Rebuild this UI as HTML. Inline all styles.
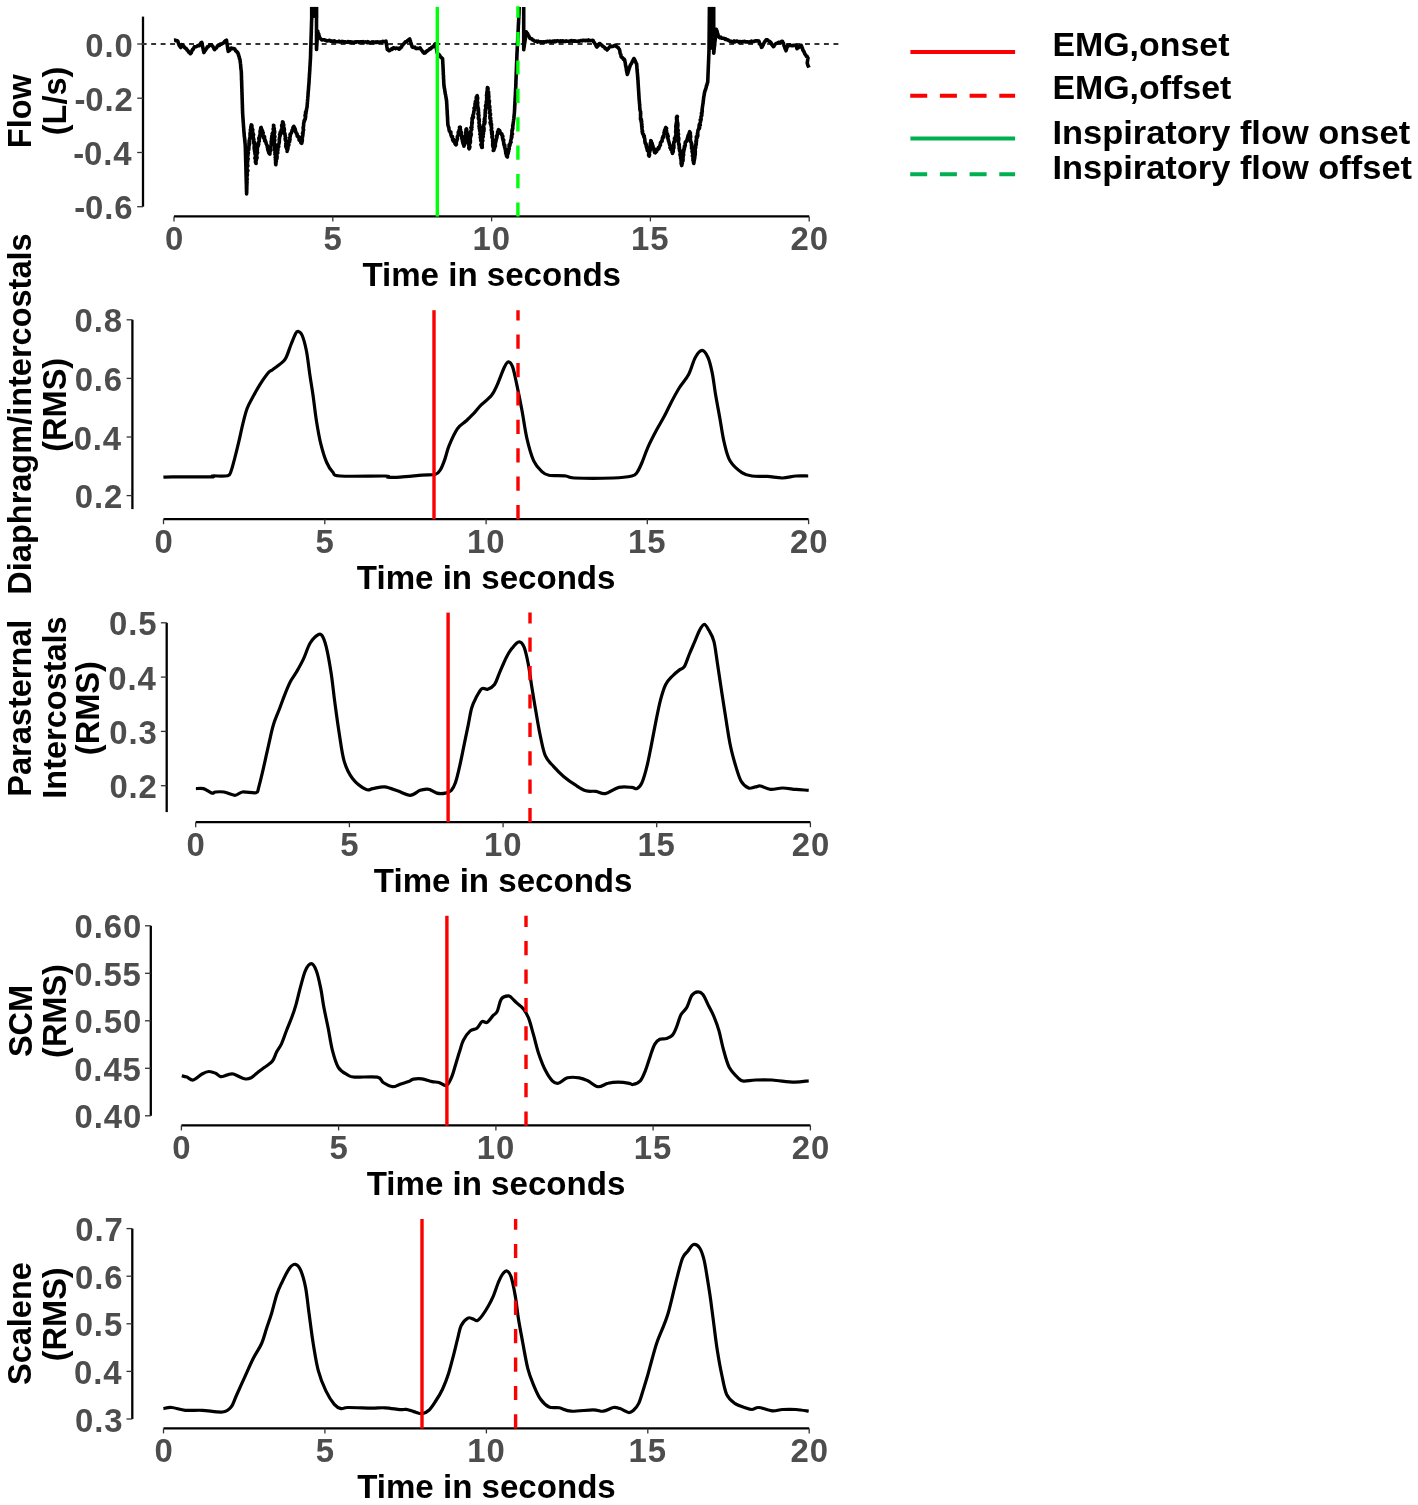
<!DOCTYPE html>
<html><head><meta charset="utf-8"><style>html,body{margin:0;padding:0;background:#fff;}svg{display:block;will-change:transform;}</style></head><body>
<svg width="1418" height="1505" viewBox="0 0 1418 1505">
<rect width="1418" height="1505" fill="#fff"/>
<defs><clipPath id="c1"><rect x="142.3" y="6.9" width="698" height="210"/></clipPath></defs>
<line x1="143" y1="16.6" x2="143" y2="206.7" stroke="#000" stroke-width="2.3"/>
<line x1="137.2" y1="44.0" x2="143" y2="44.0" stroke="#333" stroke-width="1.3"/>
<text font-family="Liberation Sans" font-weight="bold" font-size="32.9" fill="#4d4d4d" letter-spacing="0.9" x="85.21" y="56.50">0.0</text>
<line x1="137.2" y1="98.2" x2="143" y2="98.2" stroke="#333" stroke-width="1.3"/>
<text font-family="Liberation Sans" font-weight="bold" font-size="32.9" fill="#4d4d4d" letter-spacing="0.9" x="74.43" y="110.70">-<tspan dx="-1.1">0.2</tspan></text>
<line x1="137.2" y1="152.5" x2="143" y2="152.5" stroke="#333" stroke-width="1.3"/>
<text font-family="Liberation Sans" font-weight="bold" font-size="32.9" fill="#4d4d4d" letter-spacing="0.9" x="73.29" y="165.00">-<tspan dx="-1.1">0.4</tspan></text>
<line x1="137.2" y1="206.7" x2="143" y2="206.7" stroke="#333" stroke-width="1.3"/>
<text font-family="Liberation Sans" font-weight="bold" font-size="32.9" fill="#4d4d4d" letter-spacing="0.9" x="74.30" y="219.20">-<tspan dx="-1.1">0.6</tspan></text>
<line x1="174" y1="216.4" x2="809.2" y2="216.4" stroke="#000" stroke-width="2.3"/>
<line x1="174.0" y1="216.4" x2="174.0" y2="221.4" stroke="#333" stroke-width="1.3"/>
<text font-family="Liberation Sans" font-weight="bold" font-size="32.9" fill="#4d4d4d" letter-spacing="0.9" x="164.88" y="250.40">0</text>
<line x1="332.8" y1="216.4" x2="332.8" y2="221.4" stroke="#333" stroke-width="1.3"/>
<text font-family="Liberation Sans" font-weight="bold" font-size="32.9" fill="#4d4d4d" letter-spacing="0.9" x="323.60" y="250.40">5</text>
<line x1="491.6" y1="216.4" x2="491.6" y2="221.4" stroke="#333" stroke-width="1.3"/>
<text font-family="Liberation Sans" font-weight="bold" font-size="32.9" fill="#4d4d4d" letter-spacing="0.9" x="472.49" y="250.40">10</text>
<line x1="650.4" y1="216.4" x2="650.4" y2="221.4" stroke="#333" stroke-width="1.3"/>
<text font-family="Liberation Sans" font-weight="bold" font-size="32.9" fill="#4d4d4d" letter-spacing="0.9" x="631.07" y="250.40">15</text>
<line x1="809.2" y1="216.4" x2="809.2" y2="221.4" stroke="#333" stroke-width="1.3"/>
<text font-family="Liberation Sans" font-weight="bold" font-size="32.9" fill="#4d4d4d" letter-spacing="0.9" x="790.56" y="250.40">20</text>
<text font-family="Liberation Sans" font-weight="bold" font-size="33.1" fill="#000" x="362.42" y="286.00">Time in seconds</text>
<text font-family="Liberation Sans" font-weight="bold" font-size="32.5" fill="#000" transform="translate(31.20,148.13) rotate(-90)">Flow</text>
<text font-family="Liberation Sans" font-weight="bold" font-size="32.5" fill="#000" transform="translate(65.70,135.30) rotate(-90)">(L/s)</text>
<line x1="132.4" y1="319.8" x2="132.4" y2="509.1" stroke="#000" stroke-width="2.3"/>
<line x1="126.6" y1="319.8" x2="132.4" y2="319.8" stroke="#333" stroke-width="1.3"/>
<text font-family="Liberation Sans" font-weight="bold" font-size="32.9" fill="#4d4d4d" letter-spacing="0.9" x="74.48" y="332.30">0.8</text>
<line x1="126.6" y1="378.4" x2="132.4" y2="378.4" stroke="#333" stroke-width="1.3"/>
<text font-family="Liberation Sans" font-weight="bold" font-size="32.9" fill="#4d4d4d" letter-spacing="0.9" x="74.65" y="390.90">0.6</text>
<line x1="126.6" y1="437.0" x2="132.4" y2="437.0" stroke="#333" stroke-width="1.3"/>
<text font-family="Liberation Sans" font-weight="bold" font-size="32.9" fill="#4d4d4d" letter-spacing="0.9" x="73.64" y="449.50">0.4</text>
<line x1="126.6" y1="495.6" x2="132.4" y2="495.6" stroke="#333" stroke-width="1.3"/>
<text font-family="Liberation Sans" font-weight="bold" font-size="32.9" fill="#4d4d4d" letter-spacing="0.9" x="74.78" y="508.10">0.2</text>
<line x1="163.5" y1="519.2" x2="808.6" y2="519.2" stroke="#000" stroke-width="2.3"/>
<line x1="163.5" y1="519.2" x2="163.5" y2="524.2" stroke="#333" stroke-width="1.3"/>
<text font-family="Liberation Sans" font-weight="bold" font-size="32.9" fill="#4d4d4d" letter-spacing="0.9" x="154.38" y="553.20">0</text>
<line x1="324.8" y1="519.2" x2="324.8" y2="524.2" stroke="#333" stroke-width="1.3"/>
<text font-family="Liberation Sans" font-weight="bold" font-size="32.9" fill="#4d4d4d" letter-spacing="0.9" x="315.58" y="553.20">5</text>
<line x1="486.1" y1="519.2" x2="486.1" y2="524.2" stroke="#333" stroke-width="1.3"/>
<text font-family="Liberation Sans" font-weight="bold" font-size="32.9" fill="#4d4d4d" letter-spacing="0.9" x="466.94" y="553.20">10</text>
<line x1="647.3" y1="519.2" x2="647.3" y2="524.2" stroke="#333" stroke-width="1.3"/>
<text font-family="Liberation Sans" font-weight="bold" font-size="32.9" fill="#4d4d4d" letter-spacing="0.9" x="628.00" y="553.20">15</text>
<line x1="808.6" y1="519.2" x2="808.6" y2="524.2" stroke="#333" stroke-width="1.3"/>
<text font-family="Liberation Sans" font-weight="bold" font-size="32.9" fill="#4d4d4d" letter-spacing="0.9" x="789.96" y="553.20">20</text>
<text font-family="Liberation Sans" font-weight="bold" font-size="33.1" fill="#000" x="356.87" y="588.80">Time in seconds</text>
<text font-family="Liberation Sans" font-weight="bold" font-size="32.5" fill="#000" transform="translate(31.40,594.63) rotate(-90)">Diaphragm/intercostals</text>
<text font-family="Liberation Sans" font-weight="bold" font-size="32.5" fill="#000" transform="translate(65.60,451.73) rotate(-90)">(RMS)</text>
<line x1="166.7" y1="622.8" x2="166.7" y2="812.1" stroke="#000" stroke-width="2.3"/>
<line x1="160.9" y1="622.8" x2="166.7" y2="622.8" stroke="#333" stroke-width="1.3"/>
<text font-family="Liberation Sans" font-weight="bold" font-size="32.9" fill="#4d4d4d" letter-spacing="0.9" x="108.98" y="635.30">0.5</text>
<line x1="160.9" y1="677.1" x2="166.7" y2="677.1" stroke="#333" stroke-width="1.3"/>
<text font-family="Liberation Sans" font-weight="bold" font-size="32.9" fill="#4d4d4d" letter-spacing="0.9" x="108.24" y="689.60">0.4</text>
<line x1="160.9" y1="731.4" x2="166.7" y2="731.4" stroke="#333" stroke-width="1.3"/>
<text font-family="Liberation Sans" font-weight="bold" font-size="32.9" fill="#4d4d4d" letter-spacing="0.9" x="109.25" y="743.90">0.3</text>
<line x1="160.9" y1="785.7" x2="166.7" y2="785.7" stroke="#333" stroke-width="1.3"/>
<text font-family="Liberation Sans" font-weight="bold" font-size="32.9" fill="#4d4d4d" letter-spacing="0.9" x="109.38" y="798.20">0.2</text>
<line x1="195.7" y1="822.2" x2="810.4" y2="822.2" stroke="#000" stroke-width="2.3"/>
<line x1="195.7" y1="822.2" x2="195.7" y2="827.2" stroke="#333" stroke-width="1.3"/>
<text font-family="Liberation Sans" font-weight="bold" font-size="32.9" fill="#4d4d4d" letter-spacing="0.9" x="186.58" y="856.20">0</text>
<line x1="349.4" y1="822.2" x2="349.4" y2="827.2" stroke="#333" stroke-width="1.3"/>
<text font-family="Liberation Sans" font-weight="bold" font-size="32.9" fill="#4d4d4d" letter-spacing="0.9" x="340.18" y="856.20">5</text>
<line x1="503.1" y1="822.2" x2="503.1" y2="827.2" stroke="#333" stroke-width="1.3"/>
<text font-family="Liberation Sans" font-weight="bold" font-size="32.9" fill="#4d4d4d" letter-spacing="0.9" x="483.94" y="856.20">10</text>
<line x1="656.7" y1="822.2" x2="656.7" y2="827.2" stroke="#333" stroke-width="1.3"/>
<text font-family="Liberation Sans" font-weight="bold" font-size="32.9" fill="#4d4d4d" letter-spacing="0.9" x="637.40" y="856.20">15</text>
<line x1="810.4" y1="822.2" x2="810.4" y2="827.2" stroke="#333" stroke-width="1.3"/>
<text font-family="Liberation Sans" font-weight="bold" font-size="32.9" fill="#4d4d4d" letter-spacing="0.9" x="791.76" y="856.20">20</text>
<text font-family="Liberation Sans" font-weight="bold" font-size="33.1" fill="#000" x="373.87" y="891.80">Time in seconds</text>
<text font-family="Liberation Sans" font-weight="bold" font-size="32.5" fill="#000" transform="translate(31.40,796.66) rotate(-90)">Parasternal</text>
<text font-family="Liberation Sans" font-weight="bold" font-size="32.5" fill="#000" transform="translate(65.60,798.74) rotate(-90)">Intercostals</text>
<text font-family="Liberation Sans" font-weight="bold" font-size="32.5" fill="#000" transform="translate(99.20,755.13) rotate(-90)">(RMS)</text>
<line x1="150.8" y1="925.8" x2="150.8" y2="1115.8" stroke="#000" stroke-width="2.3"/>
<line x1="145.0" y1="925.8" x2="150.8" y2="925.8" stroke="#333" stroke-width="1.3"/>
<text font-family="Liberation Sans" font-weight="bold" font-size="32.9" fill="#4d4d4d" letter-spacing="0.9" x="74.62" y="938.30">0.60</text>
<line x1="145.0" y1="973.3" x2="150.8" y2="973.3" stroke="#333" stroke-width="1.3"/>
<text font-family="Liberation Sans" font-weight="bold" font-size="32.9" fill="#4d4d4d" letter-spacing="0.9" x="74.18" y="985.80">0.55</text>
<line x1="145.0" y1="1020.8" x2="150.8" y2="1020.8" stroke="#333" stroke-width="1.3"/>
<text font-family="Liberation Sans" font-weight="bold" font-size="32.9" fill="#4d4d4d" letter-spacing="0.9" x="74.62" y="1033.30">0.50</text>
<line x1="145.0" y1="1068.3" x2="150.8" y2="1068.3" stroke="#333" stroke-width="1.3"/>
<text font-family="Liberation Sans" font-weight="bold" font-size="32.9" fill="#4d4d4d" letter-spacing="0.9" x="74.18" y="1080.80">0.45</text>
<line x1="145.0" y1="1115.8" x2="150.8" y2="1115.8" stroke="#333" stroke-width="1.3"/>
<text font-family="Liberation Sans" font-weight="bold" font-size="32.9" fill="#4d4d4d" letter-spacing="0.9" x="74.62" y="1128.30">0.40</text>
<line x1="181.4" y1="1125.4" x2="810.4" y2="1125.4" stroke="#000" stroke-width="2.3"/>
<line x1="181.4" y1="1125.4" x2="181.4" y2="1130.4" stroke="#333" stroke-width="1.3"/>
<text font-family="Liberation Sans" font-weight="bold" font-size="32.9" fill="#4d4d4d" letter-spacing="0.9" x="172.28" y="1159.40">0</text>
<line x1="338.6" y1="1125.4" x2="338.6" y2="1130.4" stroke="#333" stroke-width="1.3"/>
<text font-family="Liberation Sans" font-weight="bold" font-size="32.9" fill="#4d4d4d" letter-spacing="0.9" x="329.45" y="1159.40">5</text>
<line x1="495.9" y1="1125.4" x2="495.9" y2="1130.4" stroke="#333" stroke-width="1.3"/>
<text font-family="Liberation Sans" font-weight="bold" font-size="32.9" fill="#4d4d4d" letter-spacing="0.9" x="476.79" y="1159.40">10</text>
<line x1="653.1" y1="1125.4" x2="653.1" y2="1130.4" stroke="#333" stroke-width="1.3"/>
<text font-family="Liberation Sans" font-weight="bold" font-size="32.9" fill="#4d4d4d" letter-spacing="0.9" x="633.82" y="1159.40">15</text>
<line x1="810.4" y1="1125.4" x2="810.4" y2="1130.4" stroke="#333" stroke-width="1.3"/>
<text font-family="Liberation Sans" font-weight="bold" font-size="32.9" fill="#4d4d4d" letter-spacing="0.9" x="791.76" y="1159.40">20</text>
<text font-family="Liberation Sans" font-weight="bold" font-size="33.1" fill="#000" x="366.72" y="1195.00">Time in seconds</text>
<text font-family="Liberation Sans" font-weight="bold" font-size="32.5" fill="#000" transform="translate(31.50,1057.09) rotate(-90)">SCM</text>
<text font-family="Liberation Sans" font-weight="bold" font-size="32.5" fill="#000" transform="translate(65.80,1057.93) rotate(-90)">(RMS)</text>
<line x1="132.3" y1="1228.6" x2="132.3" y2="1419.0" stroke="#000" stroke-width="2.3"/>
<line x1="126.5" y1="1228.6" x2="132.3" y2="1228.6" stroke="#333" stroke-width="1.3"/>
<text font-family="Liberation Sans" font-weight="bold" font-size="32.9" fill="#4d4d4d" letter-spacing="0.9" x="75.21" y="1241.10">0.7</text>
<line x1="126.5" y1="1276.2" x2="132.3" y2="1276.2" stroke="#333" stroke-width="1.3"/>
<text font-family="Liberation Sans" font-weight="bold" font-size="32.9" fill="#4d4d4d" letter-spacing="0.9" x="74.95" y="1288.70">0.6</text>
<line x1="126.5" y1="1323.8" x2="132.3" y2="1323.8" stroke="#333" stroke-width="1.3"/>
<text font-family="Liberation Sans" font-weight="bold" font-size="32.9" fill="#4d4d4d" letter-spacing="0.9" x="74.68" y="1336.30">0.5</text>
<line x1="126.5" y1="1371.4" x2="132.3" y2="1371.4" stroke="#333" stroke-width="1.3"/>
<text font-family="Liberation Sans" font-weight="bold" font-size="32.9" fill="#4d4d4d" letter-spacing="0.9" x="73.94" y="1383.90">0.4</text>
<line x1="126.5" y1="1419.0" x2="132.3" y2="1419.0" stroke="#333" stroke-width="1.3"/>
<text font-family="Liberation Sans" font-weight="bold" font-size="32.9" fill="#4d4d4d" letter-spacing="0.9" x="74.95" y="1431.50">0.3</text>
<line x1="163.5" y1="1428.4" x2="809.2" y2="1428.4" stroke="#000" stroke-width="2.3"/>
<line x1="163.5" y1="1428.4" x2="163.5" y2="1433.4" stroke="#333" stroke-width="1.3"/>
<text font-family="Liberation Sans" font-weight="bold" font-size="32.9" fill="#4d4d4d" letter-spacing="0.9" x="154.38" y="1462.40">0</text>
<line x1="324.9" y1="1428.4" x2="324.9" y2="1433.4" stroke="#333" stroke-width="1.3"/>
<text font-family="Liberation Sans" font-weight="bold" font-size="32.9" fill="#4d4d4d" letter-spacing="0.9" x="315.73" y="1462.40">5</text>
<line x1="486.4" y1="1428.4" x2="486.4" y2="1433.4" stroke="#333" stroke-width="1.3"/>
<text font-family="Liberation Sans" font-weight="bold" font-size="32.9" fill="#4d4d4d" letter-spacing="0.9" x="467.24" y="1462.40">10</text>
<line x1="647.8" y1="1428.4" x2="647.8" y2="1433.4" stroke="#333" stroke-width="1.3"/>
<text font-family="Liberation Sans" font-weight="bold" font-size="32.9" fill="#4d4d4d" letter-spacing="0.9" x="628.45" y="1462.40">15</text>
<line x1="809.2" y1="1428.4" x2="809.2" y2="1433.4" stroke="#333" stroke-width="1.3"/>
<text font-family="Liberation Sans" font-weight="bold" font-size="32.9" fill="#4d4d4d" letter-spacing="0.9" x="790.56" y="1462.40">20</text>
<text font-family="Liberation Sans" font-weight="bold" font-size="33.1" fill="#000" x="357.17" y="1498.00">Time in seconds</text>
<text font-family="Liberation Sans" font-weight="bold" font-size="32.5" fill="#000" transform="translate(31.40,1385.04) rotate(-90)">Scalene</text>
<text font-family="Liberation Sans" font-weight="bold" font-size="32.5" fill="#000" transform="translate(65.70,1361.23) rotate(-90)">(RMS)</text>
<line x1="141.7" y1="44" x2="838.6" y2="44" stroke="#333" stroke-width="1.8" stroke-dasharray="4.9 4.576"/>
<polyline points="174.0,40.2 174.8,40.1 175.7,40.6 176.6,40.6 177.4,40.7 177.7,41.0 178.0,41.7 178.2,42.5 178.5,43.6 178.8,44.0 179.1,45.2 179.7,46.1 180.2,46.8 180.8,47.5 181.2,47.1 181.5,46.0 181.9,44.7 182.6,45.0 183.2,45.8 183.9,46.3 184.6,47.5 185.2,48.0 185.9,48.6 186.5,48.8 187.0,50.1 187.6,50.3 188.2,51.1 188.7,52.1 189.3,52.1 189.8,53.1 190.4,53.7 190.8,53.2 191.3,52.7 191.7,51.3 192.1,50.3 192.6,49.4 193.0,49.5 193.4,48.8 193.9,47.9 194.3,46.9 195.2,46.8 196.1,46.8 197.1,46.2 198.0,45.5 198.9,45.8 199.5,45.3 200.0,44.8 200.6,43.6 201.1,42.6 201.7,42.4 201.9,42.8 202.0,43.5 202.2,44.3 202.4,45.4 202.5,45.9 202.7,47.2 202.9,48.2 203.1,48.4 203.2,49.3 203.4,50.7 203.6,50.7 203.7,51.5 203.9,52.6 204.3,52.0 204.8,50.6 205.2,50.3 205.6,50.2 206.0,49.1 206.5,48.5 206.9,48.1 207.3,46.9 208.1,46.9 208.9,45.9 209.7,45.1 210.5,44.7 211.3,44.7 211.8,45.1 212.2,46.0 212.7,46.3 213.2,47.1 213.7,47.7 214.1,49.1 214.6,49.7 215.2,48.8 215.7,48.3 216.3,48.1 216.9,47.1 217.4,46.0 218.0,45.8 218.8,45.2 219.5,45.4 220.2,44.1 221.0,44.3 221.8,43.9 222.5,43.5 223.2,43.0 223.8,42.8 224.5,41.6 225.2,40.9 225.8,40.8 226.5,40.2 226.6,40.8 226.7,42.1 226.9,43.0 227.0,43.8 227.1,43.9 227.2,44.8 227.3,45.3 227.5,46.3 227.6,47.9 227.7,48.7 227.8,49.5 228.0,49.5 228.1,50.3 228.2,51.4 228.9,50.9 229.6,50.5 230.2,49.6 230.9,48.3 231.6,48.1 232.4,48.7 233.2,48.6 234.0,48.5 234.6,48.8 235.1,49.6 235.7,51.0 236.3,51.0 236.9,52.0 237.4,52.0 238.0,53.1 238.2,54.4 238.5,54.4 238.8,56.1 239.0,56.3 239.2,56.9 239.5,58.6 239.8,59.0 240.0,59.8 240.1,60.6 240.2,61.9 240.3,62.1 240.4,62.9 240.5,63.8 240.6,64.5 240.7,65.6 240.7,66.7 240.8,67.4 240.9,68.3 241.0,69.2 241.1,69.9 241.2,70.3 241.3,71.7 241.3,72.2 241.4,73.6 241.4,74.0 241.4,75.0 241.4,75.4 241.5,76.3 241.5,77.7 241.5,78.3 241.5,79.5 241.6,80.0 241.6,80.7 241.6,81.5 241.7,82.3 241.7,83.4 241.7,84.5 241.7,84.9 241.8,86.0 241.8,86.0 241.8,86.8 241.8,87.6 241.9,89.2 241.9,89.3 241.9,90.7 241.9,91.8 242.0,91.9 242.0,93.0 242.0,93.7 242.0,95.1 242.1,95.0 242.1,96.2 242.1,96.7 242.1,98.0 242.2,98.7 242.2,98.9 242.2,100.3 242.2,100.5 242.3,102.1 242.3,102.2 242.3,102.9 242.3,103.9 242.4,104.9 242.4,106.2 242.4,106.2 242.4,107.5 242.5,107.7 242.5,109.2 242.5,109.3 242.5,110.7 242.6,110.9 242.6,111.7 242.6,113.0 242.7,113.8 242.7,114.7 242.8,115.2 242.8,116.3 242.9,116.7 242.9,117.5 243.0,118.6 243.1,119.9 243.1,120.5 243.2,121.1 243.2,121.8 243.3,123.2 243.4,123.4 243.4,125.1 243.5,125.8 243.5,126.3 243.6,127.0 243.7,128.1 243.7,128.6 243.8,129.8 243.8,130.3 243.9,130.8 243.9,131.6 244.0,132.9 244.1,133.5 244.2,134.1 244.2,135.8 244.3,136.0 244.4,136.8 244.5,137.5 244.6,138.4 244.7,140.0 244.7,140.0 244.8,140.9 244.9,141.4 245.0,142.8 245.1,143.3 245.1,143.9 245.2,144.8 245.3,146.1 245.3,146.4 245.3,147.5 245.4,148.6 245.4,149.6 245.4,150.4 245.4,150.8 245.5,152.3 245.5,152.8 245.5,152.9 245.5,154.6 245.5,155.3 245.6,155.4 245.6,156.7 245.6,157.8 245.6,158.4 245.7,159.3 245.7,159.6 245.7,160.3 245.7,161.1 245.7,162.4 245.8,163.3 245.8,163.9 245.8,165.1 245.8,165.6 245.9,166.6 245.9,167.5 245.9,167.6 245.9,169.1 245.9,169.9 246.0,170.4 246.0,171.2 246.0,172.4 246.0,173.0 246.0,173.3 246.1,174.8 246.1,175.4 246.1,175.7 246.1,177.1 246.2,178.0 246.2,178.6 246.2,179.3 246.2,180.6 246.2,181.5 246.3,181.3 246.3,183.0 246.3,183.4 246.3,183.9 246.4,184.8 246.4,185.5 246.4,187.2 246.4,187.9 246.4,188.7 246.5,188.8 246.5,189.9 246.5,190.2 246.5,191.5 246.6,192.0 246.6,193.0 246.6,194.0 246.6,192.6 246.7,192.8 246.7,192.0 246.7,191.2 246.7,189.8 246.8,189.7 246.8,188.2 246.8,187.3 246.8,186.3 246.9,185.7 246.9,184.8 246.9,184.3 246.9,183.4 247.0,183.1 247.0,182.0 247.1,182.2 246.6,180.8 247.0,180.1 247.2,179.3 246.7,177.3 246.8,178.1 247.0,176.2 247.4,174.9 247.0,175.9 247.0,174.2 247.2,173.1 246.9,171.3 247.7,170.6 247.1,170.6 247.9,170.8 247.0,168.8 247.0,167.3 247.0,166.9 247.2,165.9 247.9,165.9 247.4,165.6 247.6,163.9 247.4,163.0 247.4,161.4 247.2,162.9 247.8,160.9 247.4,161.0 247.4,158.7 247.7,158.2 248.1,158.8 247.3,157.8 248.0,154.8 247.8,156.3 247.3,154.6 248.3,153.3 247.9,152.8 248.4,152.8 247.9,152.4 247.9,149.3 248.6,149.5 248.7,149.8 248.9,148.2 248.8,146.9 249.2,145.0 249.4,144.6 249.0,144.9 249.0,142.7 249.6,143.2 249.1,141.0 249.7,141.2 249.5,140.0 249.9,139.5 249.5,139.0 250.0,137.4 250.3,138.3 250.2,137.3 250.0,134.8 250.6,135.8 250.0,133.3 250.7,133.0 250.4,132.0 251.1,131.8 250.3,129.9 250.8,129.3 250.6,129.4 251.2,128.9 250.8,127.3 251.0,127.7 251.0,126.5 251.3,124.9 251.7,125.0 252.0,126.0 251.4,127.3 251.8,127.4 252.5,129.4 252.1,128.8 252.8,129.8 252.0,130.5 252.5,131.1 253.1,134.0 253.4,134.4 252.9,135.8 253.6,134.6 252.9,136.9 253.3,137.5 253.4,137.5 253.3,137.8 253.9,139.5 253.8,139.8 253.7,142.3 253.8,143.2 254.5,142.4 254.2,144.5 254.3,143.3 254.8,144.9 254.3,145.3 254.1,147.9 254.9,147.5 254.2,149.3 254.3,148.2 254.6,151.3 255.3,151.7 254.7,151.4 255.1,153.9 255.3,152.9 254.9,153.9 255.5,153.9 255.4,157.1 254.9,158.0 255.4,156.9 255.9,159.6 255.3,159.0 255.6,159.9 255.4,162.0 256.0,162.5 256.1,163.4 255.9,163.4 255.8,162.9 256.0,161.3 255.8,161.7 256.5,159.3 255.9,158.6 256.5,157.2 257.0,157.2 257.1,157.8 256.3,155.4 256.9,154.1 256.9,154.9 257.0,152.8 257.3,153.0 257.6,152.5 256.9,151.5 257.2,151.1 257.4,149.6 257.3,149.2 257.5,147.1 258.2,146.0 257.9,146.1 257.9,145.5 258.7,144.2 258.1,143.7 258.6,143.7 258.2,143.3 259.1,141.2 259.3,141.3 258.8,138.4 258.9,137.8 259.4,139.2 259.4,138.3 259.6,137.3 260.0,135.0 259.5,135.9 260.2,134.2 260.1,132.4 260.0,131.4 260.6,130.9 260.3,131.1 260.6,128.7 260.6,129.6 260.8,127.8 261.2,127.5 261.5,129.1 261.2,128.0 261.9,129.6 261.7,131.1 262.5,130.6 262.3,132.1 263.2,132.6 263.0,133.4 263.1,134.3 263.9,136.4 263.3,135.9 263.5,137.7 264.5,136.6 264.6,138.5 264.5,139.5 265.2,140.0 264.7,140.9 265.4,140.5 266.0,142.9 266.0,142.3 266.2,143.8 266.3,144.0 267.2,145.7 267.0,145.4 267.8,148.0 267.3,147.2 268.4,149.9 267.7,149.4 268.4,151.4 268.9,152.1 268.7,152.6 269.1,153.3 270.0,153.1 269.9,154.1 269.7,154.1 270.0,151.7 270.1,151.7 270.1,149.9 270.8,150.6 270.6,148.0 270.2,149.1 270.4,148.5 270.9,147.1 270.8,146.3 271.1,145.0 271.3,144.2 271.2,143.4 271.5,141.5 271.2,141.9 271.9,141.8 271.4,140.2 271.8,139.5 271.5,138.6 272.0,136.9 272.1,136.0 271.8,136.2 272.0,135.7 272.8,135.2 272.2,133.8 272.6,132.9 272.5,133.3 273.5,132.2 273.4,131.0 273.7,128.8 273.8,128.8 273.1,129.1 274.0,127.9 273.5,125.2 273.8,125.5 273.5,127.0 273.7,128.1 273.6,128.7 274.4,128.7 273.8,128.7 273.9,130.3 273.8,129.9 274.6,131.0 274.6,133.2 274.5,132.6 274.3,133.3 274.1,135.5 274.4,136.9 274.8,136.9 274.9,136.5 274.3,138.6 274.3,139.9 274.6,141.2 274.8,140.3 274.3,141.3 274.2,142.9 274.5,143.9 275.2,144.3 274.9,144.9 274.3,145.0 274.5,145.1 274.8,147.4 275.3,147.9 274.7,147.7 274.5,149.9 274.9,149.0 275.0,150.1 275.2,151.2 274.9,152.9 275.2,153.8 275.7,153.4 275.0,154.4 275.5,154.8 275.7,157.7 275.2,157.2 275.6,157.0 275.4,159.3 275.5,160.3 275.8,161.8 276.0,160.8 275.7,161.1 275.5,162.9 276.0,162.8 275.8,164.7 276.0,162.6 275.7,164.2 276.2,161.5 276.4,161.5 276.0,161.5 276.3,159.3 277.0,157.8 276.9,158.9 277.1,156.1 276.9,157.2 277.0,156.4 276.7,154.2 276.8,153.4 277.6,152.9 277.8,153.0 277.3,152.2 277.6,151.0 277.8,150.8 278.0,148.6 277.7,149.7 277.6,148.6 277.9,146.2 278.8,146.6 278.3,145.8 278.4,145.4 279.1,142.9 279.0,143.1 279.3,142.4 279.3,141.0 279.4,140.8 279.2,139.5 279.6,138.6 279.4,138.1 279.9,136.4 280.3,135.3 279.6,134.6 280.7,133.8 280.1,133.6 280.2,132.0 280.9,132.9 281.2,132.1 281.2,129.7 281.6,129.7 281.9,130.1 282.0,127.4 282.3,128.8 281.7,125.9 281.7,125.1 282.7,126.2 282.9,124.9 282.5,124.1 282.5,121.9 283.1,122.2 282.9,123.7 283.2,123.4 283.2,123.4 283.8,124.9 283.5,125.9 283.8,128.3 284.0,128.8 283.9,127.5 284.4,129.4 284.4,129.9 284.0,131.3 284.0,132.9 284.2,133.6 284.4,132.3 285.2,135.1 284.9,133.9 285.3,136.0 285.1,136.0 285.5,137.3 285.8,137.9 285.1,138.7 285.5,140.6 285.8,139.9 286.1,140.6 286.2,143.1 285.8,143.7 286.0,143.9 285.8,146.0 285.8,146.8 286.2,145.9 286.5,148.5 287.0,147.9 286.7,148.4 287.1,150.0 287.1,151.3 287.1,151.5 287.1,150.3 287.8,149.0 287.8,149.6 287.7,147.5 288.0,148.3 288.0,145.8 288.0,147.0 288.2,144.4 288.9,145.0 288.4,142.7 288.7,142.2 288.7,142.1 288.9,140.8 289.6,141.7 290.0,138.7 289.6,137.9 290.1,139.4 289.9,138.0 290.3,135.8 290.0,134.8 290.5,135.0 290.3,133.9 291.4,133.1 291.4,133.1 291.7,132.1 292.1,130.1 292.5,130.0 292.5,130.5 293.1,128.8 292.9,127.6 293.9,127.6 293.8,126.2 294.3,127.7 294.6,128.6 294.6,128.8 295.1,128.7 295.1,128.9 295.7,131.5 295.6,131.8 296.0,132.1 296.3,133.3 297.1,134.2 297.1,133.7 297.1,136.0 298.0,136.0 297.8,136.8 298.3,136.3 298.9,137.4 299.1,140.2 299.6,138.7 300.2,140.6 300.5,141.3 300.9,142.9 301.7,142.5 301.7,143.5 302.0,141.9 302.1,141.6 302.4,140.1 301.6,139.9 302.0,138.9 302.1,137.4 302.5,137.6 302.2,136.6 302.7,135.5 302.6,136.6 303.0,133.9 302.5,133.5 303.1,132.0 303.1,133.0 303.1,131.3 303.6,129.8 303.3,129.4 303.6,129.8 303.1,128.1 303.1,127.5 303.4,127.4 303.4,126.6 303.7,124.9 303.6,123.8 303.7,123.1 304.4,121.2 304.0,121.1 304.4,120.3 304.7,119.9 304.6,119.7 305.2,119.5 305.4,116.5 305.5,117.9 305.7,115.1 305.0,115.5 306.1,113.1 305.5,114.0 305.6,111.7 306.1,111.7 306.2,111.0 306.4,110.8 306.5,109.2 306.7,108.8 306.8,108.1 307.0,107.4 307.1,106.3 307.2,105.1 307.2,104.7 307.3,103.8 307.4,103.1 307.4,101.9 307.5,101.3 307.6,100.5 307.6,99.7 307.7,98.9 307.8,97.5 307.8,97.2 307.9,96.6 308.0,95.4 308.0,95.3 308.1,94.1 308.1,92.6 308.2,92.5 308.3,91.3 308.3,90.7 308.4,90.3 308.5,89.2 308.5,88.0 308.6,87.2 308.7,86.5 308.7,85.4 308.8,84.8 308.9,84.4 308.9,83.6 309.0,82.4 309.1,81.6 309.1,80.8 309.1,80.1 309.2,79.0 309.2,78.1 309.3,77.7 309.4,76.2 309.4,76.4 309.4,74.6 309.5,73.8 309.6,74.0 309.6,72.9 309.6,72.4 309.7,71.2 309.8,70.5 309.8,69.7 309.8,68.9 309.9,68.2 309.9,66.7 310.0,66.6 310.0,65.6 310.1,65.0 310.1,63.9 310.2,62.8 310.2,62.0 310.3,61.6 310.3,60.1 310.4,59.8 310.4,58.5 310.5,58.5 310.5,57.8 310.5,56.0 310.5,55.9 310.6,55.5 310.6,54.0 310.6,53.5 310.6,52.1 310.7,51.2 310.7,50.5 310.7,49.7 310.7,48.9 310.8,48.7 310.8,47.9 310.8,46.4 310.8,46.3 310.9,45.5 310.9,44.6 310.9,43.6 310.9,42.6 311.0,42.3 311.0,40.7 311.0,40.8 311.0,39.4 311.1,38.4 311.1,38.0 311.1,37.0 311.1,36.3 311.2,35.2 311.2,34.6 311.2,34.1 311.2,33.0 311.3,32.8 311.3,31.6 311.3,30.2 311.3,30.1 311.4,28.9 311.4,28.8 311.4,27.6 311.4,26.6 311.5,25.7 311.5,25.2 311.5,24.6 311.5,22.9 311.6,22.6 311.6,22.2 311.6,20.5 311.6,20.6 311.7,19.5 311.7,18.6 311.7,0.0 316.5,0.0 316.5,49.5 316.6,49.1 316.6,48.1 316.7,46.9 316.7,46.3 316.8,45.1 316.8,45.1 316.9,44.0 316.9,43.0 317.0,42.0 317.0,41.8 317.1,40.2 317.1,40.1 317.2,39.1 317.2,38.7 317.3,37.4 317.3,36.3 317.4,35.5 317.4,34.9 317.5,34.1 317.5,33.0 317.6,33.2 317.6,31.4 317.7,31.0 318.0,32.2 318.2,32.8 318.5,33.6 318.7,33.9 319.0,35.7 319.2,36.2 319.5,37.0 320.1,38.1 320.8,39.0 321.4,39.6 322.0,40.0 322.8,39.8 323.6,39.8 324.4,39.8 325.2,40.4 326.1,40.4 326.9,41.0 327.7,40.7 328.5,40.7 329.3,40.3 330.1,40.6 330.9,41.1 331.7,41.2 332.5,41.0 333.3,41.6 334.1,40.9 334.9,41.0 335.7,41.7 336.5,41.7 337.4,41.7 338.2,41.7 339.0,41.1 339.8,41.9 340.6,41.9 341.4,41.9 342.2,41.4 343.0,41.6 343.8,41.9 344.6,41.7 345.4,42.1 346.2,42.3 347.0,42.3 347.8,41.6 348.6,41.8 349.4,42.5 350.2,41.7 351.0,41.7 351.8,42.5 352.6,42.0 353.4,42.5 354.3,42.2 355.1,41.8 355.9,42.3 356.7,41.7 357.5,41.8 358.3,41.7 359.1,42.5 359.9,41.7 360.7,41.9 361.5,41.7 362.3,42.1 363.1,41.6 363.9,42.3 364.7,42.1 365.5,41.9 366.3,42.0 367.1,42.7 367.9,41.7 368.7,42.6 369.5,42.4 370.3,42.7 371.2,42.5 372.0,41.8 372.8,42.6 373.6,41.9 374.4,42.7 375.2,42.3 376.0,41.9 376.8,42.5 377.6,41.8 378.4,42.4 379.2,42.3 380.1,41.9 380.9,42.1 381.8,42.2 382.6,41.4 383.4,41.8 384.3,41.6 385.1,41.6 386.0,41.1 386.1,42.3 386.3,42.8 386.4,44.1 386.5,44.9 386.6,45.0 386.8,46.0 386.9,46.8 387.0,47.3 387.2,48.6 387.3,49.5 388.0,49.5 388.7,50.7 389.4,50.8 390.1,50.1 390.8,49.7 391.5,48.8 392.2,49.3 392.9,48.3 393.6,47.8 394.4,48.0 395.3,48.7 396.1,48.0 397.0,48.3 397.8,48.2 398.7,49.1 399.5,49.1 400.0,47.9 400.5,47.9 401.0,47.4 401.5,47.0 402.1,45.4 402.6,45.3 403.1,44.4 403.6,44.0 404.1,43.5 404.6,42.8 405.3,41.9 406.1,42.0 406.8,41.5 407.5,40.5 408.2,40.5 409.0,39.4 409.7,39.0 409.9,40.1 410.2,40.3 410.4,41.3 410.7,42.5 410.9,43.3 411.2,43.3 411.4,45.1 411.7,45.1 411.9,46.3 412.2,47.0 413.1,47.3 413.9,47.4 414.8,47.1 415.6,48.4 416.4,48.6 417.3,48.3 418.2,48.5 419.1,48.4 420.0,47.8 420.5,48.6 421.0,49.3 421.5,49.9 422.0,50.6 422.5,51.2 423.0,52.3 423.5,52.3 424.0,53.2 424.7,52.3 425.3,52.8 426.0,51.6 426.7,51.4 427.3,50.5 428.0,50.5 428.7,49.8 429.3,49.3 430.0,48.5 430.6,48.9 431.3,48.1 432.0,47.2 432.6,47.0 433.3,46.5 433.8,46.0 434.3,45.0 434.8,44.2 435.3,43.9 435.5,44.6 435.7,45.1 435.8,46.8 436.0,47.3 436.2,47.9 436.4,48.7 436.6,49.4 436.8,51.1 436.9,51.0 437.1,52.3 437.3,53.2 437.9,53.4 438.5,54.9 439.1,54.6 439.7,55.4 440.2,56.3 440.8,57.1 441.4,57.6 442.0,58.2 442.6,58.5 442.6,59.6 442.7,60.6 442.7,61.3 442.8,62.0 442.8,62.5 442.8,63.4 442.9,64.4 442.9,65.0 443.0,65.7 443.0,66.8 443.0,67.2 443.1,68.0 443.1,69.3 443.2,69.7 443.2,70.2 443.2,71.0 443.3,72.2 443.3,73.4 443.3,74.1 443.4,75.1 443.4,75.3 443.5,75.6 443.5,77.0 443.5,78.2 443.6,78.6 443.6,79.4 443.7,80.4 443.7,80.8 443.7,81.6 443.8,82.8 443.8,83.0 443.9,84.1 443.9,85.0 444.0,85.9 444.2,87.1 444.3,87.3 444.4,88.7 444.6,89.0 444.7,89.4 444.8,91.1 445.0,91.4 445.1,92.6 445.2,93.4 445.4,94.2 445.5,94.2 445.7,95.4 445.8,95.9 445.9,97.1 446.1,97.6 446.2,98.8 446.3,99.3 446.5,100.0 446.6,101.0 446.6,101.3 446.7,103.0 446.7,103.6 446.8,104.2 446.8,104.7 446.9,105.8 446.9,106.7 446.9,107.0 447.0,108.5 447.0,108.6 447.1,109.8 447.1,110.7 447.2,110.9 447.2,112.5 447.2,113.2 447.3,113.4 447.3,114.2 447.4,115.5 447.4,116.1 447.5,116.5 447.5,117.9 447.6,118.5 447.6,119.1 447.6,120.7 447.7,120.8 447.7,122.1 447.8,122.7 447.8,123.4 447.9,123.9 447.9,125.0 448.2,126.0 448.4,126.4 448.7,127.4 449.0,127.9 448.9,128.6 449.3,131.0 449.4,130.7 449.9,131.4 449.9,131.9 450.9,132.0 450.6,133.3 450.9,133.7 450.9,134.6 451.5,136.5 451.9,136.9 452.5,136.7 452.4,137.3 452.6,139.9 453.7,139.6 453.4,141.3 454.3,140.8 454.9,141.6 455.3,141.9 454.9,143.4 455.2,144.0 455.9,144.8 455.8,144.6 456.4,144.3 456.2,142.1 456.3,142.0 456.4,141.9 457.0,140.1 457.4,138.7 457.5,138.2 457.3,137.9 457.3,136.7 458.3,135.4 458.2,135.0 458.3,133.6 458.4,133.5 458.2,132.5 458.5,131.8 459.2,130.5 459.1,130.2 459.6,131.0 459.9,130.2 459.5,127.4 459.9,127.6 460.3,127.2 460.1,129.6 460.6,129.8 460.3,131.4 460.6,132.5 460.6,132.8 461.5,132.3 461.5,134.7 461.0,133.7 461.3,134.8 461.7,136.0 461.8,136.1 461.8,138.5 462.4,139.8 462.3,140.3 462.9,140.4 462.4,141.0 463.3,143.0 462.7,142.4 463.5,144.7 463.3,143.4 464.0,144.4 463.9,146.2 464.4,144.6 463.7,145.2 464.2,144.2 464.7,143.5 464.1,141.5 464.6,142.4 465.0,141.6 465.2,140.2 465.0,139.1 465.3,136.8 465.3,137.0 465.0,137.4 465.1,136.2 465.9,135.2 465.8,133.2 466.0,134.2 465.8,132.3 466.0,130.2 466.0,130.3 466.0,129.2 466.5,128.9 466.8,130.2 466.5,129.8 466.8,131.3 466.8,133.2 467.4,132.4 467.2,132.7 467.6,134.0 467.6,135.4 467.6,135.2 467.5,137.1 468.0,138.3 467.6,137.4 467.6,138.9 467.8,138.9 468.3,140.1 467.8,141.5 468.3,142.0 468.1,142.9 468.1,142.9 468.9,146.1 469.0,144.5 468.9,147.7 469.0,146.2 468.8,147.8 469.2,148.8 468.8,148.1 469.5,148.3 469.9,146.7 469.3,146.0 469.3,144.1 470.0,142.8 469.6,144.1 470.0,141.6 470.4,142.5 470.4,139.9 470.4,140.8 469.9,138.7 470.1,139.2 470.5,137.2 470.8,136.4 470.1,135.3 470.8,135.3 471.0,135.2 471.3,134.6 470.9,132.7 470.8,131.1 470.7,131.4 470.9,130.8 471.8,129.4 470.9,127.7 471.1,127.8 471.0,127.7 472.0,127.2 471.6,126.3 472.0,124.2 471.8,124.0 471.9,122.7 472.4,122.7 471.8,122.6 472.2,120.2 472.2,120.1 472.0,118.3 472.5,118.3 472.6,117.0 473.2,117.9 473.5,116.8 473.3,116.3 472.9,115.1 473.6,113.9 473.7,112.1 473.8,113.0 473.8,111.4 474.5,109.8 474.0,108.2 474.4,109.1 474.8,106.7 474.9,106.7 475.0,106.0 475.0,105.6 475.0,103.6 475.5,104.8 476.0,102.0 475.4,101.5 475.7,101.4 476.2,100.5 476.4,99.0 476.5,97.9 476.2,98.4 476.3,97.1 477.3,96.3 477.1,95.7 477.4,96.7 476.8,98.0 477.5,99.5 477.7,98.0 477.1,99.6 477.5,101.9 477.1,102.2 477.1,103.1 477.5,102.5 477.8,102.7 477.5,104.1 477.7,106.2 478.0,107.5 478.0,108.3 478.3,109.2 478.3,108.1 478.4,109.4 478.5,111.1 478.1,110.5 478.7,112.9 477.9,113.7 478.0,114.2 478.7,114.9 478.5,115.6 479.0,115.4 478.4,117.7 478.7,117.2 478.9,119.7 478.4,118.6 479.3,119.4 479.1,120.4 479.3,121.4 478.9,122.5 479.4,124.6 479.7,124.9 479.0,126.3 479.2,125.6 480.0,126.8 479.3,128.3 480.1,127.5 479.8,129.6 479.6,129.9 480.0,131.6 480.3,132.5 480.1,131.2 480.7,132.4 479.9,134.2 480.3,133.9 480.6,135.5 480.5,136.0 480.8,135.8 480.3,137.5 481.4,138.6 480.6,138.3 480.8,140.8 481.1,140.5 481.3,141.3 481.8,142.8 480.9,144.8 481.7,144.5 481.8,146.1 481.8,146.3 481.5,146.3 481.8,147.5 482.3,147.5 482.1,147.0 482.3,144.6 482.1,144.9 482.1,143.9 482.2,142.8 482.2,140.8 482.9,140.7 482.4,140.3 482.4,138.9 482.3,138.3 483.2,136.6 482.8,137.0 482.8,136.5 482.6,134.7 482.9,134.2 483.3,134.5 483.1,134.3 483.5,133.4 483.1,130.5 484.0,131.0 483.9,129.6 484.1,129.0 483.8,127.2 483.6,128.6 483.5,126.1 483.8,125.1 483.8,125.7 483.9,124.1 484.6,123.8 484.1,123.2 484.9,122.6 484.1,121.4 485.0,121.2 484.3,119.2 484.8,118.0 485.0,119.0 484.6,118.3 485.3,115.9 485.1,115.6 485.1,115.2 485.1,114.5 485.2,112.1 485.5,111.2 485.5,111.2 485.3,111.1 485.2,109.9 485.8,110.3 485.4,109.7 486.1,107.9 485.5,106.4 485.7,105.1 485.7,105.9 486.1,105.3 486.3,103.7 486.5,103.0 486.2,102.3 486.2,101.9 486.8,101.0 486.5,100.4 487.2,99.6 486.6,97.9 487.3,97.3 486.5,95.5 487.2,95.6 487.0,95.6 486.9,95.3 486.8,93.9 487.0,91.3 487.4,90.5 487.2,91.0 487.4,91.2 487.3,88.4 488.1,89.1 487.8,87.7 487.4,87.6 487.7,90.0 488.0,91.4 487.9,91.3 488.1,92.5 488.6,92.0 488.5,92.3 488.5,93.0 488.7,94.6 488.5,94.6 488.9,96.3 488.7,98.5 488.4,97.4 488.6,98.3 488.5,99.0 489.0,101.2 489.4,100.8 489.0,101.4 489.4,102.0 489.1,103.7 488.9,105.5 489.6,106.0 489.1,105.6 489.8,107.0 489.6,107.0 489.5,109.0 490.0,109.8 490.0,109.6 490.0,110.9 489.5,113.0 490.3,113.9 489.4,113.2 490.5,113.6 490.5,114.1 490.4,115.3 489.9,116.0 489.9,118.4 490.8,118.3 490.4,119.6 490.9,121.0 490.1,122.5 491.0,121.3 490.3,123.3 490.6,123.6 490.5,124.3 491.5,124.0 491.5,125.6 491.2,125.9 491.2,126.7 491.6,127.6 491.7,128.3 491.2,130.1 491.6,130.5 491.6,132.8 492.3,131.7 492.2,134.3 491.7,133.5 491.7,134.3 492.2,134.5 492.3,136.3 491.9,137.0 492.6,138.6 492.6,139.0 493.1,140.2 492.9,141.5 492.6,141.1 493.4,141.9 492.9,142.7 492.7,143.5 492.7,145.9 493.7,145.6 493.5,145.5 493.2,146.7 493.1,147.0 493.9,149.5 493.3,150.5 493.8,150.2 493.8,149.9 494.2,149.0 494.8,147.3 494.8,145.7 494.7,147.2 495.4,145.7 495.2,144.0 495.1,144.5 495.3,143.6 495.7,142.3 495.6,141.9 496.0,141.0 496.2,139.2 496.7,138.5 496.7,138.2 496.6,137.6 496.4,136.0 497.0,137.0 497.2,135.2 497.1,135.2 497.8,132.7 497.8,132.7 498.3,132.8 497.6,132.1 498.6,130.1 498.4,129.6 498.5,131.2 499.2,130.2 499.8,130.8 500.4,133.3 500.5,133.2 501.9,133.8 501.8,135.3 502.4,135.5 502.9,136.2 502.4,137.8 502.8,138.3 502.8,138.7 503.1,139.1 502.9,139.9 503.7,140.2 503.4,140.7 503.7,143.2 503.8,142.9 503.9,145.0 504.8,145.3 504.5,145.0 504.9,147.3 504.5,147.0 505.0,148.0 505.1,149.5 505.6,149.5 505.5,151.3 505.9,151.0 505.7,153.2 506.4,154.1 506.5,153.3 506.1,154.0 506.5,155.9 506.8,156.1 507.0,156.8 507.4,157.0 507.5,154.0 507.5,154.3 507.7,154.5 508.3,152.8 508.1,151.9 508.6,151.3 508.7,150.9 508.2,149.4 508.9,149.3 509.3,148.7 509.0,146.3 509.8,145.4 509.2,144.6 509.9,145.5 510.2,142.9 510.2,143.8 510.6,141.3 510.7,141.5 511.1,142.2 510.6,141.1 511.2,138.9 511.8,137.2 511.3,137.1 511.7,136.9 511.5,135.6 511.9,136.2 511.9,134.5 511.9,132.5 512.5,133.9 512.0,133.0 511.9,130.5 512.3,130.6 512.5,129.6 512.5,129.2 512.4,128.9 512.8,128.4 512.7,125.4 512.9,125.8 513.0,125.0 513.1,123.9 513.2,123.1 513.3,122.9 513.4,121.7 513.5,120.9 513.6,119.7 513.7,119.5 513.8,119.0 513.9,117.9 513.9,117.4 514.0,116.5 514.1,115.6 514.2,114.4 514.3,114.2 514.4,113.0 514.4,112.6 514.5,110.9 514.5,110.9 514.6,109.6 514.6,108.7 514.7,108.3 514.7,106.8 514.7,106.0 514.8,105.4 514.8,104.9 514.9,104.1 514.9,103.7 514.9,102.8 515.0,101.9 515.0,100.6 515.1,99.8 515.1,98.8 515.2,97.9 515.2,97.7 515.2,96.9 515.3,96.2 515.3,95.5 515.4,94.7 515.4,93.2 515.4,92.9 515.5,92.3 515.5,90.9 515.6,90.3 515.6,88.9 515.7,88.3 515.7,87.7 515.7,87.3 515.8,86.6 515.8,85.4 515.8,84.3 515.9,83.9 515.9,82.7 515.9,81.8 515.9,80.9 516.0,80.3 516.0,79.7 516.0,78.9 516.1,78.2 516.1,76.8 516.1,76.0 516.2,75.3 516.2,74.7 516.2,74.2 516.2,72.9 516.3,72.3 516.3,72.1 516.3,70.5 516.4,70.5 516.4,69.2 516.4,68.0 516.5,67.3 516.5,66.8 516.5,65.7 516.5,64.9 516.6,64.1 516.6,63.6 516.6,62.3 516.7,62.0 516.7,61.3 516.7,60.1 516.8,59.2 516.8,58.3 516.8,58.0 516.8,57.6 516.9,56.5 516.9,55.7 516.9,55.0 517.0,53.7 517.0,53.2 517.0,52.9 517.1,51.7 517.1,51.1 517.2,50.3 517.2,49.6 517.2,48.8 517.3,47.4 517.3,46.4 517.4,46.1 517.4,44.9 517.4,43.9 517.5,43.2 517.5,43.2 517.6,41.8 517.6,41.3 517.7,40.4 517.7,39.0 517.7,38.9 517.8,37.3 517.8,36.7 517.9,36.6 517.9,35.6 517.9,34.8 518.0,34.1 518.0,33.2 518.1,32.1 518.1,31.6 518.1,30.8 518.2,30.1 518.2,29.3 518.3,28.5 518.3,26.9 518.3,26.0 518.4,25.5 518.4,24.7 518.5,24.1 518.5,23.0 518.6,22.6 518.6,21.9 518.6,20.5 518.7,20.0 518.7,18.8 518.8,18.6 518.8,16.8 518.8,16.0 518.9,16.1 518.9,15.0 519.0,13.9 519.0,13.3 519.3,0.0 523.7,0.0 523.7,49.8 523.8,48.8 523.9,48.3 524.1,46.9 524.2,46.8 524.3,45.9 524.4,44.5 524.5,43.6 524.6,42.9 524.8,43.0 524.9,41.4 525.0,41.0 525.1,39.9 525.2,39.7 525.4,38.9 525.5,38.0 525.6,36.8 525.7,35.6 525.8,35.1 525.9,34.1 526.1,33.1 526.2,33.1 526.3,31.9 526.7,32.5 527.2,33.8 527.6,33.6 528.1,34.8 528.5,35.4 529.0,36.4 529.4,37.1 529.9,38.2 530.3,38.5 531.1,38.7 531.8,38.8 532.6,39.9 533.3,40.0 534.1,40.9 534.8,41.1 535.6,41.2 536.5,41.1 537.4,42.0 538.2,41.2 539.1,41.8 540.0,41.9 540.8,41.7 541.6,42.0 542.5,42.1 543.3,41.8 544.1,42.3 544.9,42.0 545.8,41.5 546.6,41.9 547.4,41.3 548.2,41.6 549.0,41.8 549.9,41.1 550.7,41.9 551.5,41.7 552.3,41.2 553.1,41.1 554.0,41.8 554.8,40.9 555.6,41.7 556.4,41.0 557.3,40.7 558.1,41.0 558.9,41.1 559.7,41.6 560.5,40.8 561.3,41.0 562.1,41.3 562.9,40.9 563.7,41.4 564.5,41.2 565.3,41.4 566.1,40.9 566.9,41.1 567.8,41.2 568.6,41.4 569.4,41.5 570.2,40.9 571.0,40.8 571.8,40.6 572.6,41.4 573.4,41.0 574.2,40.7 575.0,41.3 575.8,41.1 576.6,41.2 577.4,41.3 578.2,41.5 579.0,40.8 579.8,41.2 580.6,40.5 581.4,40.8 582.2,40.9 583.0,40.3 583.8,40.2 584.7,40.6 585.5,40.8 586.3,40.4 587.1,40.3 587.9,40.8 588.7,40.0 589.5,40.7 590.3,40.8 591.1,40.6 591.9,40.4 592.7,40.2 593.2,40.5 593.6,41.9 594.1,42.2 594.6,43.3 595.0,43.7 595.5,44.4 596.0,45.7 596.4,46.6 596.9,47.0 597.4,46.5 597.9,46.0 598.5,44.4 599.0,43.9 599.5,43.6 600.1,43.6 600.8,44.7 601.4,44.7 602.0,45.3 602.7,46.4 603.3,46.6 603.9,47.0 604.6,47.5 605.2,48.7 605.8,48.4 606.5,48.9 607.1,50.0 607.7,49.2 608.3,48.7 608.8,48.0 609.4,47.2 610.0,46.5 610.9,46.0 611.8,46.6 612.6,46.4 613.5,46.2 614.4,45.4 615.3,45.2 615.9,45.7 616.4,46.6 617.0,46.7 617.6,47.4 618.2,47.7 618.7,48.6 619.3,49.2 619.5,49.7 619.7,50.4 619.9,51.6 620.1,52.9 620.3,53.6 620.5,54.2 620.7,54.2 620.9,55.0 621.1,56.6 621.3,57.1 622.0,57.4 622.6,57.8 623.3,59.3 623.9,58.8 624.6,59.8 624.8,60.5 624.9,61.8 625.0,61.8 625.2,62.7 625.4,63.8 625.5,65.1 625.6,65.5 625.8,65.9 626.0,67.2 626.1,67.6 626.2,68.2 626.4,69.8 626.5,70.9 626.7,71.4 626.8,72.3 627.0,72.4 627.1,73.3 627.3,74.4 627.6,73.5 627.8,73.2 628.1,72.0 628.3,71.6 628.6,69.9 628.9,69.7 629.1,68.8 629.4,67.7 629.6,67.6 629.9,66.4 630.3,65.2 630.6,64.6 631.0,64.2 631.4,63.7 631.7,62.7 632.1,62.3 632.4,61.3 632.8,60.8 633.2,59.7 633.5,59.4 633.9,58.5 634.3,58.9 634.7,60.1 635.1,60.5 635.4,61.2 635.8,62.6 636.2,63.2 636.6,63.8 636.7,64.1 636.7,66.0 636.8,65.8 636.9,66.9 636.9,67.7 637.0,69.3 637.1,70.1 637.1,70.1 637.2,71.6 637.3,72.7 637.4,72.7 637.4,73.5 637.5,74.2 637.6,75.9 637.6,75.8 637.7,77.3 637.8,78.0 637.8,79.0 637.9,79.7 638.0,80.0 638.0,81.4 638.1,82.0 638.1,83.2 638.2,84.1 638.2,84.5 638.3,85.5 638.3,86.0 638.4,87.4 638.4,87.5 638.5,88.8 638.5,89.7 638.6,90.0 638.6,91.2 638.7,91.8 638.7,92.8 638.8,92.8 638.8,94.3 638.9,94.9 638.9,95.6 639.0,96.7 639.0,97.6 639.1,98.6 639.1,99.1 639.2,99.7 639.3,100.7 639.3,101.3 639.4,101.8 639.5,102.9 639.5,103.5 639.6,104.4 639.7,105.0 639.7,106.8 639.8,107.5 639.9,108.3 639.9,109.0 639.9,108.9 639.8,109.1 640.6,112.2 640.5,111.5 640.7,113.5 640.4,114.4 640.7,113.4 640.6,114.8 640.6,115.7 640.6,116.9 640.4,118.9 640.9,118.6 641.3,119.4 641.4,119.9 641.6,121.4 640.9,120.6 641.7,121.9 641.2,122.0 642.0,124.7 641.5,124.1 641.9,126.2 642.1,127.1 641.7,126.6 642.2,126.9 641.9,128.1 642.3,130.9 642.5,130.7 642.6,131.6 642.1,131.6 642.6,132.9 642.4,132.5 642.8,134.1 643.5,134.2 643.9,137.1 644.3,136.1 643.9,136.6 644.6,138.2 644.7,138.5 644.9,140.2 644.8,141.1 645.2,142.4 645.1,143.0 645.5,143.7 646.3,144.6 646.0,144.9 646.1,143.9 646.3,147.0 646.9,147.2 646.7,148.0 646.8,147.4 647.3,150.4 647.7,150.3 647.4,149.9 648.4,150.2 648.7,151.2 648.6,152.6 648.9,152.8 648.7,153.9 648.6,155.4 649.2,156.1 649.6,154.6 649.3,153.9 649.2,154.4 649.3,152.1 649.6,151.8 649.8,151.7 649.5,151.5 650.4,150.1 649.7,148.2 649.9,147.9 650.6,147.2 650.1,145.4 650.2,145.6 650.6,144.2 650.3,143.1 650.9,142.9 651.0,143.6 650.8,140.6 651.2,140.9 651.5,142.3 652.2,143.4 651.6,144.2 652.3,145.2 652.2,144.2 652.5,146.6 652.8,145.4 653.3,148.3 653.2,148.6 653.7,148.7 654.3,148.9 654.0,150.1 654.6,152.5 654.4,151.2 655.2,152.8 655.7,152.5 656.1,150.1 656.7,151.3 657.1,149.2 657.8,149.5 658.4,147.6 658.8,148.9 658.9,148.0 659.2,147.4 660.1,144.9 660.5,144.9 660.3,145.2 660.5,142.6 660.9,142.4 661.7,141.0 662.1,141.2 662.1,139.9 662.6,138.1 662.4,137.9 663.1,137.9 663.4,137.0 662.9,136.6 663.1,136.3 663.6,136.0 664.3,133.2 664.0,132.6 664.5,131.9 664.5,130.3 665.2,129.9 665.2,128.7 665.3,128.5 665.8,128.5 665.8,127.6 665.7,127.5 666.6,128.3 665.9,129.2 666.6,131.0 666.2,132.8 666.5,131.9 666.9,133.6 667.5,134.0 667.7,135.5 667.3,137.1 667.6,137.9 668.2,136.4 667.5,137.4 668.0,138.7 668.7,141.3 668.5,140.9 668.8,141.5 669.3,143.4 669.3,143.7 669.2,143.1 669.8,145.2 670.4,146.4 669.9,147.6 670.9,146.1 670.4,148.2 670.8,149.3 671.1,148.9 671.7,150.4 672.0,150.0 672.0,152.2 672.5,153.2 672.5,153.5 672.6,151.4 673.0,152.4 672.6,151.5 673.3,151.5 673.1,148.8 673.0,149.9 673.9,147.7 673.2,148.2 673.5,147.0 674.0,146.0 673.6,143.8 673.8,143.3 673.8,142.0 674.2,142.2 674.5,140.5 674.6,142.0 674.9,139.7 674.5,139.1 674.4,138.4 674.7,138.1 675.6,136.5 675.6,136.8 675.6,135.6 676.0,135.0 675.9,132.9 675.8,132.9 675.6,131.6 676.0,132.1 676.4,131.3 675.8,129.8 676.2,127.5 676.0,128.5 675.8,126.0 676.5,125.4 676.1,124.1 676.7,124.0 676.0,125.0 677.0,121.9 676.3,123.3 676.7,120.9 676.7,120.0 676.6,119.6 676.5,117.6 676.6,117.1 677.2,117.5 677.1,116.3 677.4,116.5 677.0,118.5 676.9,118.7 677.3,120.6 677.0,119.1 677.3,121.6 677.1,122.5 677.8,123.5 677.6,122.4 677.8,123.5 677.9,125.9 677.2,125.2 677.7,127.1 677.4,126.6 677.4,128.5 677.6,129.4 677.8,129.3 678.1,130.8 678.2,130.3 677.8,131.6 678.2,133.5 678.5,134.2 677.9,133.9 677.9,135.9 677.9,135.4 678.6,137.8 678.8,138.5 678.2,139.5 678.4,139.5 678.7,139.8 678.7,140.0 678.3,140.9 678.5,142.8 679.3,144.7 678.7,144.3 679.2,144.2 679.1,146.0 679.4,147.3 679.1,148.3 679.5,147.3 679.4,149.2 679.5,150.5 679.9,150.4 680.3,152.2 680.0,152.1 680.6,154.4 679.9,154.4 680.6,154.8 680.1,155.1 681.0,157.7 680.7,156.3 680.6,158.4 681.2,157.8 681.0,160.4 681.1,159.5 681.7,160.3 681.2,161.0 681.1,163.7 681.2,162.8 681.7,163.7 681.8,165.4 681.6,165.5 682.3,163.0 682.0,162.8 682.0,161.2 682.0,162.6 682.7,160.0 683.0,160.8 683.1,158.9 682.6,158.5 683.1,157.3 682.6,157.2 683.6,155.0 683.5,154.0 683.1,153.8 683.4,152.8 683.2,153.9 683.5,152.7 684.0,150.1 683.5,149.8 684.3,149.2 684.1,149.5 684.4,146.5 684.7,147.3 684.4,146.2 684.5,146.6 685.3,145.6 685.1,143.3 685.4,142.8 685.4,142.0 686.5,140.9 686.5,140.6 686.9,141.1 687.3,138.6 687.7,139.3 687.7,138.3 687.5,137.8 687.9,136.6 687.9,136.3 688.4,134.8 688.7,134.7 689.5,134.0 689.1,133.4 689.7,131.6 690.1,133.6 690.1,133.7 690.4,132.9 690.1,135.0 690.5,135.2 690.7,137.2 690.3,136.5 690.2,137.4 690.2,138.5 690.5,140.5 690.5,139.4 690.7,142.0 691.0,142.0 691.7,143.7 691.5,143.3 691.4,145.6 691.8,146.4 691.7,146.2 692.2,146.5 691.5,148.0 692.3,148.9 692.1,149.5 692.6,150.1 692.0,151.6 692.2,151.6 692.7,154.0 693.0,152.6 692.7,153.2 693.0,155.1 692.4,155.9 693.3,157.0 692.9,158.5 693.4,157.8 692.9,160.2 693.8,161.2 693.3,160.9 693.9,162.4 693.4,161.9 693.7,163.5 694.0,162.3 693.9,161.1 694.1,161.1 694.5,159.4 694.2,160.8 693.9,159.5 694.4,159.0 694.8,157.8 694.9,155.9 694.1,154.7 695.1,154.7 695.2,154.9 695.3,153.1 694.6,152.5 695.4,151.8 695.2,150.5 695.0,149.3 695.3,148.9 695.0,148.2 695.3,146.2 695.8,147.3 695.4,145.2 695.4,145.1 696.3,144.6 696.0,142.7 696.3,143.3 696.3,142.5 696.6,140.5 695.9,141.4 696.4,139.5 696.5,139.9 696.3,136.9 697.1,137.9 697.1,135.4 697.8,136.0 697.8,134.4 697.4,133.4 697.8,132.4 697.8,132.8 697.9,130.8 698.1,129.8 698.6,129.6 698.7,128.5 699.4,128.4 699.6,127.7 699.0,126.9 699.1,126.4 699.2,124.6 700.3,125.2 699.9,123.6 700.1,122.9 700.4,122.3 700.4,122.0 701.0,119.8 700.2,120.0 701.1,120.0 701.1,117.9 701.0,118.5 701.0,116.4 701.5,115.9 701.8,115.6 701.4,113.2 701.9,114.3 701.9,112.8 702.3,111.3 701.9,111.0 702.1,109.7 702.2,109.7 702.3,107.9 702.4,107.6 702.5,106.7 702.6,105.9 702.7,105.7 702.8,104.4 703.0,103.5 703.1,103.1 703.2,101.8 703.3,101.0 703.4,100.4 703.5,99.3 703.6,98.3 703.7,97.4 703.8,96.6 704.0,95.9 704.1,95.0 704.2,94.9 704.3,94.3 704.4,93.0 704.7,92.2 704.9,90.9 705.2,90.5 705.4,90.0 705.7,88.8 705.9,88.5 706.2,87.4 706.4,86.0 706.7,85.2 706.9,85.1 707.2,83.6 707.4,82.9 707.7,82.4 707.7,81.8 707.8,80.6 707.8,79.9 707.8,78.9 707.9,78.8 707.9,77.7 707.9,76.3 708.0,75.7 708.0,74.6 708.0,74.4 708.1,73.3 708.1,72.7 708.1,72.2 708.2,70.8 708.2,70.6 708.2,69.8 708.3,68.1 708.3,67.5 708.3,66.3 708.4,66.4 708.4,64.7 708.4,64.3 708.5,63.7 708.5,62.7 708.5,62.5 708.6,61.3 708.6,60.2 708.6,59.9 708.7,59.0 708.7,58.4 708.7,56.8 708.8,56.0 708.8,55.0 708.8,54.6 708.9,54.2 708.9,53.4 708.9,51.7 709.0,51.4 709.0,50.5 709.5,0.0 711.5,0.0 711.5,48.0 712.4,48.1 713.2,48.0 713.2,0.0 713.7,0.0 713.7,53.2 713.8,52.9 713.9,51.9 714.0,50.6 714.0,50.4 714.1,49.4 714.2,48.7 714.3,47.2 714.4,47.0 714.5,46.2 714.6,45.1 714.7,44.9 714.7,43.5 714.8,43.1 714.9,42.0 715.0,41.1 715.1,40.4 715.2,39.9 715.3,39.0 715.3,38.5 715.4,37.5 715.5,36.6 715.6,35.3 715.7,34.3 715.8,33.5 715.9,33.6 716.0,32.4 716.0,31.8 716.1,30.6 716.2,29.7 716.3,29.2 716.6,30.3 716.8,30.5 717.1,31.4 717.4,32.9 717.6,33.5 717.9,34.5 718.2,35.2 718.5,36.1 718.7,36.5 719.0,37.2 719.9,37.8 720.8,37.2 721.6,38.2 722.5,38.3 723.4,38.2 724.3,38.5 725.1,39.4 725.9,38.9 726.7,39.7 727.6,39.7 728.4,40.4 729.2,40.6 730.0,41.2 730.8,41.3 731.6,41.4 732.4,41.7 733.2,41.9 734.1,41.0 734.9,41.9 735.7,41.5 736.5,41.0 737.3,41.1 738.1,41.7 738.9,42.1 739.7,41.5 740.5,41.8 741.3,42.1 742.2,41.6 743.0,41.6 743.8,41.5 744.6,41.4 745.4,41.9 746.2,41.9 747.1,41.8 747.9,42.1 748.8,41.9 749.6,42.2 750.5,41.8 751.3,41.1 752.1,42.0 753.0,41.5 753.8,41.3 754.7,41.4 755.5,40.8 756.4,40.9 757.2,40.8 758.1,40.9 758.9,41.1 759.2,41.9 759.5,43.2 759.9,43.7 760.2,44.6 760.5,44.6 760.9,45.6 761.2,46.5 761.5,47.4 761.9,47.2 762.3,46.6 762.8,45.5 763.2,44.9 763.6,43.8 764.0,43.0 764.4,42.2 764.8,42.0 765.3,40.8 765.7,40.6 766.1,39.8 766.9,40.0 767.6,39.9 768.4,40.7 769.1,41.4 769.9,41.5 770.4,42.6 770.9,42.5 771.4,43.6 771.8,44.7 772.3,45.3 772.8,45.8 773.3,46.6 773.9,46.5 774.4,45.1 775.0,44.4 775.6,43.9 776.1,43.7 776.7,43.2 777.5,43.0 778.4,42.4 779.2,42.3 780.1,42.7 780.9,41.9 781.8,41.2 782.6,41.5 782.9,42.7 783.2,42.7 783.5,43.3 783.7,44.4 784.0,45.6 784.3,46.2 784.6,47.1 784.9,47.9 785.1,48.9 785.4,48.9 785.7,49.7 786.0,50.8 786.2,50.2 786.5,49.0 786.7,48.6 787.0,47.5 787.2,46.8 787.5,45.6 787.7,45.3 788.6,45.8 789.4,44.9 790.2,45.3 791.1,45.5 792.0,45.6 792.8,45.8 793.7,45.3 794.5,45.3 795.4,45.5 796.2,45.3 796.4,46.2 796.6,46.5 796.8,48.2 797.0,48.7 797.7,47.9 798.4,47.7 799.1,46.8 799.8,46.3 800.5,45.6 801.2,45.3 801.5,46.1 801.8,46.5 802.1,48.2 802.5,48.3 802.8,49.8 803.1,50.2 803.4,51.2 803.9,51.3 804.3,52.4 804.8,53.8 805.2,54.4 805.7,55.0 806.2,55.8 806.6,56.5 807.1,56.3 807.5,57.3 808.0,58.0 807.9,58.7 807.7,59.8 807.6,60.3 807.5,61.4 807.3,62.4 807.2,63.1 807.5,63.9 807.8,64.9 808.0,65.7 808.3,65.9 808.6,66.9 808.9,67.7" fill="none" stroke="#000" stroke-width="3.6" stroke-linejoin="round" stroke-linecap="butt" clip-path="url(#c1)"/>
<rect x="708.2" y="6.9" width="6.8" height="42" fill="#000"/>
<rect x="310.5" y="6.9" width="7.6" height="11" fill="#000"/>
<path d="M163.4,477.2 C164.9,477.1 164.8,476.9 172.7,476.9 C180.6,476.8 204.2,477.0 210.8,476.9 C217.4,476.8 209.7,476.2 212.5,476.0 C215.3,475.8 224.6,476.5 227.7,475.7 C230.8,474.9 230.0,473.8 231.1,471.0 C232.2,468.2 233.2,463.9 234.5,459.1 C235.8,454.3 237.3,448.1 238.7,442.2 C240.1,436.3 241.5,429.2 242.9,423.6 C244.3,418.0 245.5,412.8 247.2,408.3 C248.9,403.8 251.0,400.4 253.1,396.5 C255.2,392.6 257.4,388.6 259.9,384.6 C262.4,380.7 266.2,375.3 268.3,372.8 C270.4,370.3 270.3,371.4 272.6,369.7 C274.9,368.0 279.6,364.6 281.9,362.6 C284.1,360.6 284.6,360.6 286.1,357.5 C287.7,354.4 289.6,347.9 291.2,344.0 C292.8,340.1 294.3,336.0 295.4,333.9 C296.5,331.8 296.8,331.0 297.9,331.3 C299.0,331.6 300.8,332.2 302.2,335.5 C303.6,338.8 305.1,344.3 306.4,350.8 C307.7,357.3 308.7,366.9 309.8,374.5 C310.9,382.1 312.1,388.6 313.2,396.5 C314.3,404.4 315.3,414.0 316.6,421.9 C317.9,429.8 319.1,437.1 320.8,443.9 C322.5,450.7 324.7,457.9 326.7,462.5 C328.7,467.1 330.3,469.6 332.6,471.8 C334.9,474.1 331.6,475.3 340.3,476.0 C349.1,476.7 377.2,475.8 385.1,476.0 C393.0,476.2 385.2,477.0 387.7,477.2 C390.2,477.4 394.3,477.5 400.0,477.2 C405.7,476.9 416.1,475.7 422.0,475.2 C427.9,474.7 432.4,475.3 435.5,474.3 C438.6,473.3 439.0,471.8 440.6,469.3 C442.2,466.8 443.5,463.1 444.9,459.1 C446.3,455.2 447.0,450.7 449.1,445.6 C451.2,440.5 454.7,432.7 457.5,428.6 C460.3,424.5 463.2,423.7 466.0,421.0 C468.8,418.3 472.0,415.3 474.5,412.6 C477.0,409.9 478.4,407.7 481.2,404.9 C484.0,402.1 488.7,399.0 491.4,395.6 C494.1,392.2 495.2,389.2 497.3,384.6 C499.4,380.0 502.3,371.5 504.1,367.7 C505.9,363.9 506.9,361.9 508.3,361.8 C509.7,361.7 511.2,363.1 512.6,366.9 C514.0,370.7 515.2,377.4 516.8,384.6 C518.3,391.8 520.2,401.0 521.9,410.0 C523.6,419.0 525.0,430.3 527.0,438.8 C529.0,447.3 531.2,455.3 533.7,460.8 C536.2,466.3 539.7,469.4 542.2,471.8 C544.7,474.2 545.0,474.5 548.9,475.2 C552.8,475.9 561.7,475.5 565.9,476.0 C570.1,476.5 566.4,477.7 574.3,478.0 C582.2,478.3 603.7,478.3 613.3,478.0 C622.9,477.7 628.0,476.9 631.9,476.0 C635.8,475.1 635.2,474.9 636.9,472.6 C638.6,470.4 640.2,466.7 642.0,462.5 C643.8,458.3 645.5,452.7 647.9,447.3 C650.3,441.9 653.7,435.4 656.4,430.3 C659.1,425.2 661.6,421.3 664.0,416.8 C666.4,412.3 668.3,408.0 670.8,403.2 C673.3,398.4 676.2,392.8 679.2,388.0 C682.2,383.2 685.9,379.6 688.6,374.5 C691.3,369.4 693.0,361.5 695.3,357.5 C697.5,353.5 700.0,350.4 702.1,350.4 C704.2,350.4 706.3,353.8 708.0,357.5 C709.7,361.2 710.9,366.6 712.2,372.8 C713.5,379.0 714.3,387.2 715.6,394.8 C716.9,402.4 718.5,410.6 719.9,418.5 C721.3,426.4 722.4,435.1 724.1,442.2 C725.8,449.2 727.0,455.7 730.0,460.8 C733.0,465.9 738.2,470.1 741.9,472.6 C745.6,475.1 747.8,475.4 752.0,476.0 C756.2,476.6 762.2,476.1 767.3,476.4 C772.4,476.7 777.7,478.1 782.5,478.0 C787.3,477.9 791.7,476.3 796.0,476.0 C800.3,475.7 806.2,476.0 808.2,476.0" fill="none" stroke="#000" stroke-width="3.2" stroke-linejoin="round"/>
<path d="M195.9,788.6 C197.2,788.6 200.8,787.9 203.5,788.6 C206.2,789.4 210.0,792.5 212.0,793.1 C214.0,793.7 213.4,792.2 215.4,792.0 C217.4,791.8 220.7,791.5 223.9,792.0 C227.2,792.5 231.8,795.3 234.9,795.3 C238.0,795.3 239.0,792.4 242.5,792.0 C246.0,791.6 253.3,793.5 256.0,792.8 C258.7,792.1 257.5,791.4 258.6,787.7 C259.7,784.0 261.4,776.7 262.8,770.8 C264.2,764.9 265.7,757.8 267.0,752.2 C268.3,746.6 269.3,741.8 270.4,737.0 C271.5,732.2 272.2,728.2 273.8,723.4 C275.4,718.6 277.9,713.0 279.7,708.2 C281.5,703.4 283.0,699.1 284.8,694.6 C286.6,690.1 288.7,684.9 290.7,681.1 C292.7,677.3 294.5,675.5 296.6,671.8 C298.7,668.1 301.1,663.9 303.4,659.1 C305.7,654.3 307.7,647.1 310.2,643.0 C312.7,638.9 316.5,635.5 318.6,634.5 C320.7,633.5 321.5,634.4 322.9,637.1 C324.3,639.8 325.7,644.4 327.1,650.6 C328.5,656.8 330.0,665.8 331.3,674.3 C332.6,682.8 333.4,691.8 334.7,701.4 C336.0,711.0 337.4,722.0 339.0,731.9 C340.6,741.8 341.8,752.9 344.0,760.6 C346.2,768.4 348.8,773.6 352.5,778.4 C356.2,783.2 362.6,787.7 366.0,789.4 C369.4,791.1 369.7,789.0 372.8,788.6 C375.9,788.2 380.5,786.5 384.7,786.9 C388.9,787.3 394.0,789.7 398.2,791.1 C402.4,792.5 406.3,795.4 410.0,795.3 C413.7,795.2 417.4,791.3 420.2,790.3 C423.0,789.3 425.1,789.2 426.8,789.1 C428.5,789.0 428.5,789.1 430.2,789.8 C431.9,790.5 434.4,792.5 436.9,793.1 C439.4,793.7 443.0,793.6 445.4,793.1 C447.8,792.6 449.6,792.0 451.3,790.3 C453.0,788.5 454.1,786.7 455.5,782.6 C456.9,778.5 458.4,771.9 459.8,765.7 C461.2,759.5 462.6,752.2 464.0,745.4 C465.4,738.6 466.9,731.3 468.2,725.1 C469.5,718.9 470.3,712.7 471.6,708.2 C472.9,703.7 474.2,701.2 475.9,698.0 C477.6,694.8 479.8,690.2 481.8,688.7 C483.8,687.2 485.6,689.9 487.7,689.2 C489.8,688.5 492.5,687.3 494.5,684.5 C496.5,681.7 497.6,677.1 499.6,672.6 C501.6,668.1 504.2,661.5 506.3,657.4 C508.4,653.3 510.1,650.7 512.2,648.1 C514.3,645.5 517.0,641.9 519.0,641.8 C521.0,641.6 522.6,643.5 524.1,647.2 C525.6,650.9 527.0,657.7 528.3,664.2 C529.6,670.7 530.4,678.3 531.7,686.2 C533.0,694.1 534.5,703.4 535.9,711.6 C537.3,719.8 538.6,728.0 540.2,735.3 C541.8,742.6 543.0,750.4 545.3,755.6 C547.5,760.8 550.6,763.1 553.7,766.6 C556.8,770.1 560.2,773.6 563.9,776.7 C567.6,779.8 572.0,782.9 575.7,785.2 C579.4,787.6 582.5,789.8 585.9,790.8 C589.3,791.8 592.8,790.9 596.0,791.4 C599.2,791.9 601.5,794.3 605.3,793.6 C609.1,792.9 614.5,788.4 618.9,787.4 C623.3,786.4 628.8,787.2 631.8,787.4 C634.8,787.6 635.2,789.4 636.9,788.6 C638.6,787.8 640.3,786.4 642.0,782.6 C643.7,778.8 645.6,771.9 647.1,765.7 C648.6,759.5 649.9,752.5 651.3,745.4 C652.7,738.3 654.0,731.0 655.5,723.4 C657.0,715.8 658.9,706.2 660.6,699.7 C662.3,693.2 663.7,688.5 665.7,684.5 C667.7,680.5 670.2,678.4 672.5,676.0 C674.8,673.6 677.2,671.6 679.2,670.1 C681.2,668.6 682.6,669.4 684.3,666.7 C686.0,664.0 687.7,658.1 689.4,654.0 C691.1,649.9 692.8,646.2 694.5,642.2 C696.2,638.2 698.0,633.3 699.6,630.3 C701.2,627.3 702.8,624.4 704.3,624.4 C705.8,624.4 707.3,627.5 708.9,630.3 C710.5,633.1 712.5,635.9 713.9,641.3 C715.3,646.7 716.0,654.2 717.3,662.5 C718.6,670.8 720.2,681.9 721.6,691.2 C723.0,700.5 724.4,709.5 725.8,718.3 C727.2,727.0 728.5,736.1 730.0,743.7 C731.5,751.3 733.3,757.8 735.1,764.0 C736.9,770.2 738.8,777.0 741.0,781.0 C743.2,785.0 746.2,787.0 748.6,788.0 C751.0,789.0 753.4,787.2 755.4,786.9 C757.4,786.6 758.0,785.6 760.5,786.0 C763.0,786.4 766.9,789.1 770.6,789.4 C774.3,789.7 778.3,788.0 782.5,788.0 C786.7,788.0 791.6,789.0 796.0,789.4 C800.4,789.8 806.6,790.1 808.7,790.3" fill="none" stroke="#000" stroke-width="3.2" stroke-linejoin="round"/>
<path d="M181.8,1075.7 C182.6,1075.9 184.9,1076.4 186.8,1077.1 C188.7,1077.8 190.8,1080.5 193.3,1080.0 C195.9,1079.5 199.5,1075.4 202.1,1074.0 C204.7,1072.6 206.7,1071.6 208.9,1071.5 C211.2,1071.4 213.6,1072.4 215.6,1073.2 C217.6,1074.0 218.7,1076.3 220.7,1076.6 C222.7,1076.9 225.4,1075.3 227.5,1074.9 C229.6,1074.5 230.6,1073.3 233.4,1074.0 C236.2,1074.7 241.4,1078.2 244.4,1078.8 C247.4,1079.4 248.9,1078.9 251.2,1077.8 C253.4,1076.7 255.6,1074.0 257.9,1072.3 C260.1,1070.5 262.3,1069.1 264.7,1067.3 C267.1,1065.5 270.3,1063.8 272.3,1061.3 C274.3,1058.8 275.1,1055.0 276.6,1052.0 C278.2,1049.0 279.9,1047.3 281.6,1043.6 C283.3,1039.9 285.0,1034.4 286.7,1030.0 C288.4,1025.6 290.2,1021.5 291.8,1017.3 C293.4,1013.1 294.6,1009.5 296.0,1004.6 C297.4,999.7 298.8,993.3 300.3,987.7 C301.9,982.1 303.5,974.8 305.3,970.8 C307.1,966.8 309.5,963.7 311.3,963.7 C313.1,963.7 314.8,966.8 316.3,970.8 C317.9,974.8 319.3,981.5 320.6,987.7 C321.9,993.9 322.7,1001.2 324.0,1008.0 C325.3,1014.8 326.8,1021.2 328.2,1028.3 C329.6,1035.3 330.7,1043.8 332.4,1050.3 C334.1,1056.8 335.8,1063.2 338.3,1067.3 C340.8,1071.4 344.9,1073.3 347.6,1074.9 C350.3,1076.5 349.4,1076.7 354.4,1077.1 C359.3,1077.5 372.5,1076.2 377.3,1077.1 C382.1,1078.0 380.7,1080.9 383.2,1082.5 C385.7,1084.1 389.7,1086.4 392.5,1086.7 C395.3,1087.0 397.4,1085.1 400.1,1084.2 C402.8,1083.3 406.4,1082.4 408.6,1081.6 C410.8,1080.8 411.3,1079.6 413.5,1079.1 C415.7,1078.6 418.8,1078.4 421.9,1078.8 C425.0,1079.2 429.3,1081.0 432.1,1081.6 C434.9,1082.2 436.5,1081.8 438.9,1082.5 C441.3,1083.2 444.4,1086.3 446.5,1085.5 C448.6,1084.7 449.9,1081.0 451.5,1077.4 C453.1,1073.8 454.4,1068.4 455.8,1063.9 C457.2,1059.4 458.7,1054.2 460.0,1050.3 C461.3,1046.3 461.7,1043.4 463.4,1040.2 C465.1,1037.0 467.9,1032.9 470.2,1030.9 C472.4,1028.9 474.9,1029.8 476.9,1028.3 C478.9,1026.8 480.3,1022.6 482.0,1021.6 C483.7,1020.6 485.3,1023.4 487.1,1022.4 C488.9,1021.4 491.3,1017.4 493.0,1015.6 C494.7,1013.8 495.8,1014.2 497.2,1011.4 C498.6,1008.6 499.6,1001.3 501.5,998.7 C503.4,996.1 506.6,995.9 508.3,995.8 C510.0,995.7 510.2,996.7 511.6,997.9 C513.0,999.1 514.7,1001.1 516.7,1002.9 C518.7,1004.7 521.5,1006.3 523.5,1008.9 C525.5,1011.5 526.9,1013.8 528.6,1018.2 C530.3,1022.6 531.9,1029.2 533.6,1035.1 C535.3,1041.0 536.7,1047.8 538.7,1053.7 C540.7,1059.6 543.2,1066.1 545.5,1070.6 C547.8,1075.1 550.2,1078.7 552.3,1080.8 C554.4,1082.9 555.7,1083.8 558.2,1083.3 C560.7,1082.8 564.0,1078.7 567.5,1077.8 C571.0,1076.9 575.9,1077.3 579.3,1077.8 C582.7,1078.3 584.7,1079.3 587.8,1080.8 C590.9,1082.3 594.6,1086.3 598.0,1086.7 C601.4,1087.1 604.7,1084.0 608.1,1083.3 C611.5,1082.5 614.8,1082.2 618.3,1082.2 C621.8,1082.2 626.9,1082.9 629.3,1083.3 C631.7,1083.7 630.9,1084.9 632.7,1084.5 C634.5,1084.1 638.2,1083.1 640.3,1080.8 C642.4,1078.5 643.7,1074.8 645.4,1070.6 C647.1,1066.4 649.0,1059.8 650.5,1055.4 C652.0,1051.0 653.2,1047.1 654.7,1044.4 C656.2,1041.7 657.8,1040.3 659.8,1039.3 C661.8,1038.3 664.4,1039.2 666.5,1038.5 C668.6,1037.8 670.8,1037.1 672.5,1035.1 C674.2,1033.1 675.3,1030.0 676.7,1026.6 C678.1,1023.2 679.2,1018.0 680.9,1014.8 C682.6,1011.6 685.1,1010.5 686.9,1007.2 C688.7,1004.0 690.1,997.8 691.9,995.3 C693.7,992.8 696.1,992.0 697.9,991.9 C699.7,991.8 701.2,992.4 702.9,994.5 C704.6,996.6 706.2,1000.9 708.0,1004.6 C709.8,1008.3 712.1,1012.1 713.9,1016.5 C715.7,1020.9 717.5,1025.6 719.0,1030.9 C720.5,1036.2 721.5,1042.5 723.2,1048.6 C724.9,1054.7 726.7,1062.3 729.2,1067.3 C731.8,1072.2 736.1,1076.0 738.5,1078.3 C740.9,1080.6 740.8,1080.8 743.6,1081.1 C746.4,1081.4 750.6,1080.2 755.4,1080.0 C760.2,1079.8 765.8,1079.6 772.3,1080.0 C778.8,1080.4 788.2,1082.1 794.3,1082.2 C800.4,1082.3 806.3,1081.0 808.7,1080.8" fill="none" stroke="#000" stroke-width="3.2" stroke-linejoin="round"/>
<path d="M163.4,1408.6 C164.8,1408.4 168.1,1407.2 171.8,1407.5 C175.5,1407.8 180.3,1409.8 185.4,1410.3 C190.5,1410.8 196.1,1410.0 202.3,1410.3 C208.5,1410.6 217.8,1412.5 222.6,1412.0 C227.4,1411.5 228.8,1409.7 231.1,1407.0 C233.4,1404.3 233.9,1401.0 236.2,1396.0 C238.4,1391.0 241.8,1383.5 244.6,1377.3 C247.4,1371.1 250.3,1364.3 253.1,1358.7 C255.9,1353.1 259.4,1348.6 261.6,1343.5 C263.9,1338.4 264.9,1333.4 266.6,1328.3 C268.3,1323.2 270.0,1318.7 271.7,1313.0 C273.4,1307.3 275.1,1299.5 276.8,1294.4 C278.5,1289.3 279.8,1286.9 281.9,1282.5 C284.0,1278.1 287.2,1271.2 289.5,1268.2 C291.8,1265.2 293.6,1264.0 295.4,1264.3 C297.2,1264.6 298.8,1266.0 300.5,1269.9 C302.2,1273.8 304.2,1280.4 305.6,1287.6 C307.0,1294.8 307.7,1303.7 309.0,1313.0 C310.3,1322.3 311.6,1333.9 313.2,1343.5 C314.8,1353.1 316.2,1362.7 318.3,1370.6 C320.4,1378.5 323.2,1385.3 325.9,1390.9 C328.6,1396.5 331.8,1401.5 334.3,1404.4 C336.8,1407.4 338.8,1408.1 341.1,1408.6 C343.4,1409.1 342.8,1407.6 347.9,1407.5 C353.0,1407.4 365.4,1408.0 371.6,1408.1 C377.8,1408.1 380.4,1407.5 385.1,1407.8 C389.8,1408.0 396.5,1409.3 400.0,1409.6 C403.5,1409.9 403.8,1409.1 406.1,1409.4 C408.4,1409.7 411.0,1410.9 413.7,1411.6 C416.4,1412.3 419.7,1413.9 422.2,1413.7 C424.7,1413.5 426.6,1412.4 428.9,1410.3 C431.1,1408.2 433.4,1404.5 435.7,1401.0 C438.0,1397.5 440.4,1393.7 442.5,1389.2 C444.6,1384.7 446.6,1379.7 448.4,1374.0 C450.2,1368.3 451.9,1361.2 453.5,1355.3 C455.1,1349.4 456.4,1343.3 457.7,1338.4 C459.0,1333.5 459.4,1329.1 461.1,1325.7 C462.8,1322.3 465.9,1319.2 467.9,1318.1 C469.9,1317.0 471.3,1318.5 472.9,1318.9 C474.4,1319.3 475.6,1321.1 477.2,1320.6 C478.8,1320.0 480.4,1318.0 482.2,1315.6 C484.0,1313.2 486.3,1309.5 488.2,1306.2 C490.1,1303.0 491.6,1300.0 493.3,1296.1 C495.0,1292.1 496.8,1286.2 498.3,1282.5 C499.9,1278.8 501.2,1276.0 502.6,1274.1 C504.0,1272.2 505.4,1270.6 506.8,1271.0 C508.2,1271.4 509.6,1272.4 511.0,1276.6 C512.4,1280.8 514.0,1288.9 515.3,1296.1 C516.6,1303.3 517.3,1311.9 518.6,1319.8 C519.9,1327.7 521.4,1335.3 522.9,1343.5 C524.4,1351.7 526.1,1361.9 527.9,1368.9 C529.7,1376.0 531.8,1380.7 533.9,1385.8 C536.0,1390.9 538.1,1395.8 540.6,1399.3 C543.1,1402.8 546.0,1405.6 549.1,1407.0 C552.2,1408.4 555.6,1407.1 559.3,1407.8 C563.0,1408.5 565.5,1410.9 571.1,1411.2 C576.7,1411.5 587.7,1409.8 593.1,1409.8 C598.5,1409.8 599.9,1411.6 603.3,1411.2 C606.7,1410.8 610.6,1407.9 613.4,1407.5 C616.2,1407.1 617.5,1407.8 620.0,1408.6 C622.5,1409.4 626.2,1412.2 628.5,1412.5 C630.8,1412.8 631.8,1411.8 633.5,1410.3 C635.2,1408.8 637.0,1406.8 638.6,1403.6 C640.2,1400.4 641.5,1395.3 642.9,1390.9 C644.3,1386.5 645.5,1382.7 647.1,1377.3 C648.7,1371.9 650.5,1364.6 652.2,1358.7 C653.9,1352.8 655.2,1347.4 657.2,1341.8 C659.2,1336.2 662.2,1329.7 664.0,1324.9 C665.8,1320.1 666.8,1317.8 668.2,1313.0 C669.6,1308.2 671.0,1302.3 672.5,1296.1 C674.0,1289.9 675.8,1282.1 677.5,1275.8 C679.2,1269.5 680.9,1262.1 682.6,1258.0 C684.3,1253.9 685.9,1253.5 687.7,1251.2 C689.5,1249.0 691.6,1245.0 693.6,1244.5 C695.6,1244.0 697.9,1245.5 699.6,1247.9 C701.3,1250.3 702.5,1254.0 703.8,1258.9 C705.1,1263.8 706.1,1270.7 707.2,1277.5 C708.3,1284.3 709.5,1291.6 710.6,1299.5 C711.7,1307.4 712.8,1316.4 713.9,1324.9 C715.0,1333.4 716.0,1342.1 717.3,1350.3 C718.6,1358.5 720.0,1366.7 721.6,1374.0 C723.2,1381.3 724.4,1389.4 726.6,1394.3 C728.9,1399.2 732.0,1401.3 735.1,1403.6 C738.2,1405.8 742.5,1406.8 745.3,1407.8 C748.1,1408.8 749.8,1409.5 752.0,1409.5 C754.2,1409.5 755.4,1407.3 758.8,1407.5 C762.2,1407.7 768.3,1410.5 772.3,1410.8 C776.2,1411.1 778.5,1409.7 782.5,1409.5 C786.5,1409.3 791.6,1409.2 796.0,1409.5 C800.4,1409.8 806.6,1410.9 808.7,1411.2" fill="none" stroke="#000" stroke-width="3.2" stroke-linejoin="round"/>
<line x1="437.3" y1="216.6" x2="437.3" y2="6.9" stroke="#00ff0a" stroke-width="3.4"/>
<line x1="517.9" y1="216.6" x2="517.9" y2="6.3" stroke="#00ff0a" stroke-width="3.4" stroke-dasharray="14.2 14.2"/>
<line x1="434.0" y1="519.2" x2="434.0" y2="310.2" stroke="#fa0000" stroke-width="3.4"/>
<line x1="518.0" y1="519.2" x2="518.0" y2="310.2" stroke="#fa0000" stroke-width="3.4" stroke-dasharray="14.2 14.2"/>
<line x1="448.1" y1="822.2" x2="448.1" y2="612.6" stroke="#fa0000" stroke-width="3.4"/>
<line x1="530.0" y1="822.2" x2="530.0" y2="612.6" stroke="#fa0000" stroke-width="3.4" stroke-dasharray="14.2 14.2"/>
<line x1="446.9" y1="1125.7" x2="446.9" y2="915.8" stroke="#fa0000" stroke-width="3.4"/>
<line x1="526.0" y1="1125.7" x2="526.0" y2="915.8" stroke="#fa0000" stroke-width="3.4" stroke-dasharray="14.2 14.2"/>
<line x1="422.0" y1="1428.5" x2="422.0" y2="1219.0" stroke="#fa0000" stroke-width="3.4"/>
<line x1="515.6" y1="1428.5" x2="515.6" y2="1219.0" stroke="#fa0000" stroke-width="3.4" stroke-dasharray="14.2 14.2"/>
<line x1="910.4" y1="52" x2="1015.1" y2="52" stroke="#fa0000" stroke-width="4"/>
<line x1="910.2" y1="95.7" x2="1015.1" y2="95.7" stroke="#fa0000" stroke-width="4" stroke-dasharray="17 12.7"/>
<line x1="910.4" y1="138.4" x2="1015.1" y2="138.4" stroke="#00b050" stroke-width="4"/>
<line x1="910.2" y1="174.2" x2="1015.1" y2="174.2" stroke="#00b050" stroke-width="4" stroke-dasharray="17 12.7"/>
<text font-family="Liberation Sans" font-weight="bold" font-size="33.9" fill="#000" x="1052.43" y="55.80">EMG,onset</text>
<text font-family="Liberation Sans" font-weight="bold" font-size="33.9" fill="#000" x="1052.43" y="99.20">EMG,offset</text>
<text font-family="Liberation Sans" font-weight="bold" font-size="33.9" fill="#000" transform="translate(1052.40,144.10) scale(1.016,1)">Inspiratory flow onset</text>
<text font-family="Liberation Sans" font-weight="bold" font-size="33.9" fill="#000" transform="translate(1052.40,179.10) scale(1.016,1)">Inspiratory flow offset</text>
</svg>
</body></html>
